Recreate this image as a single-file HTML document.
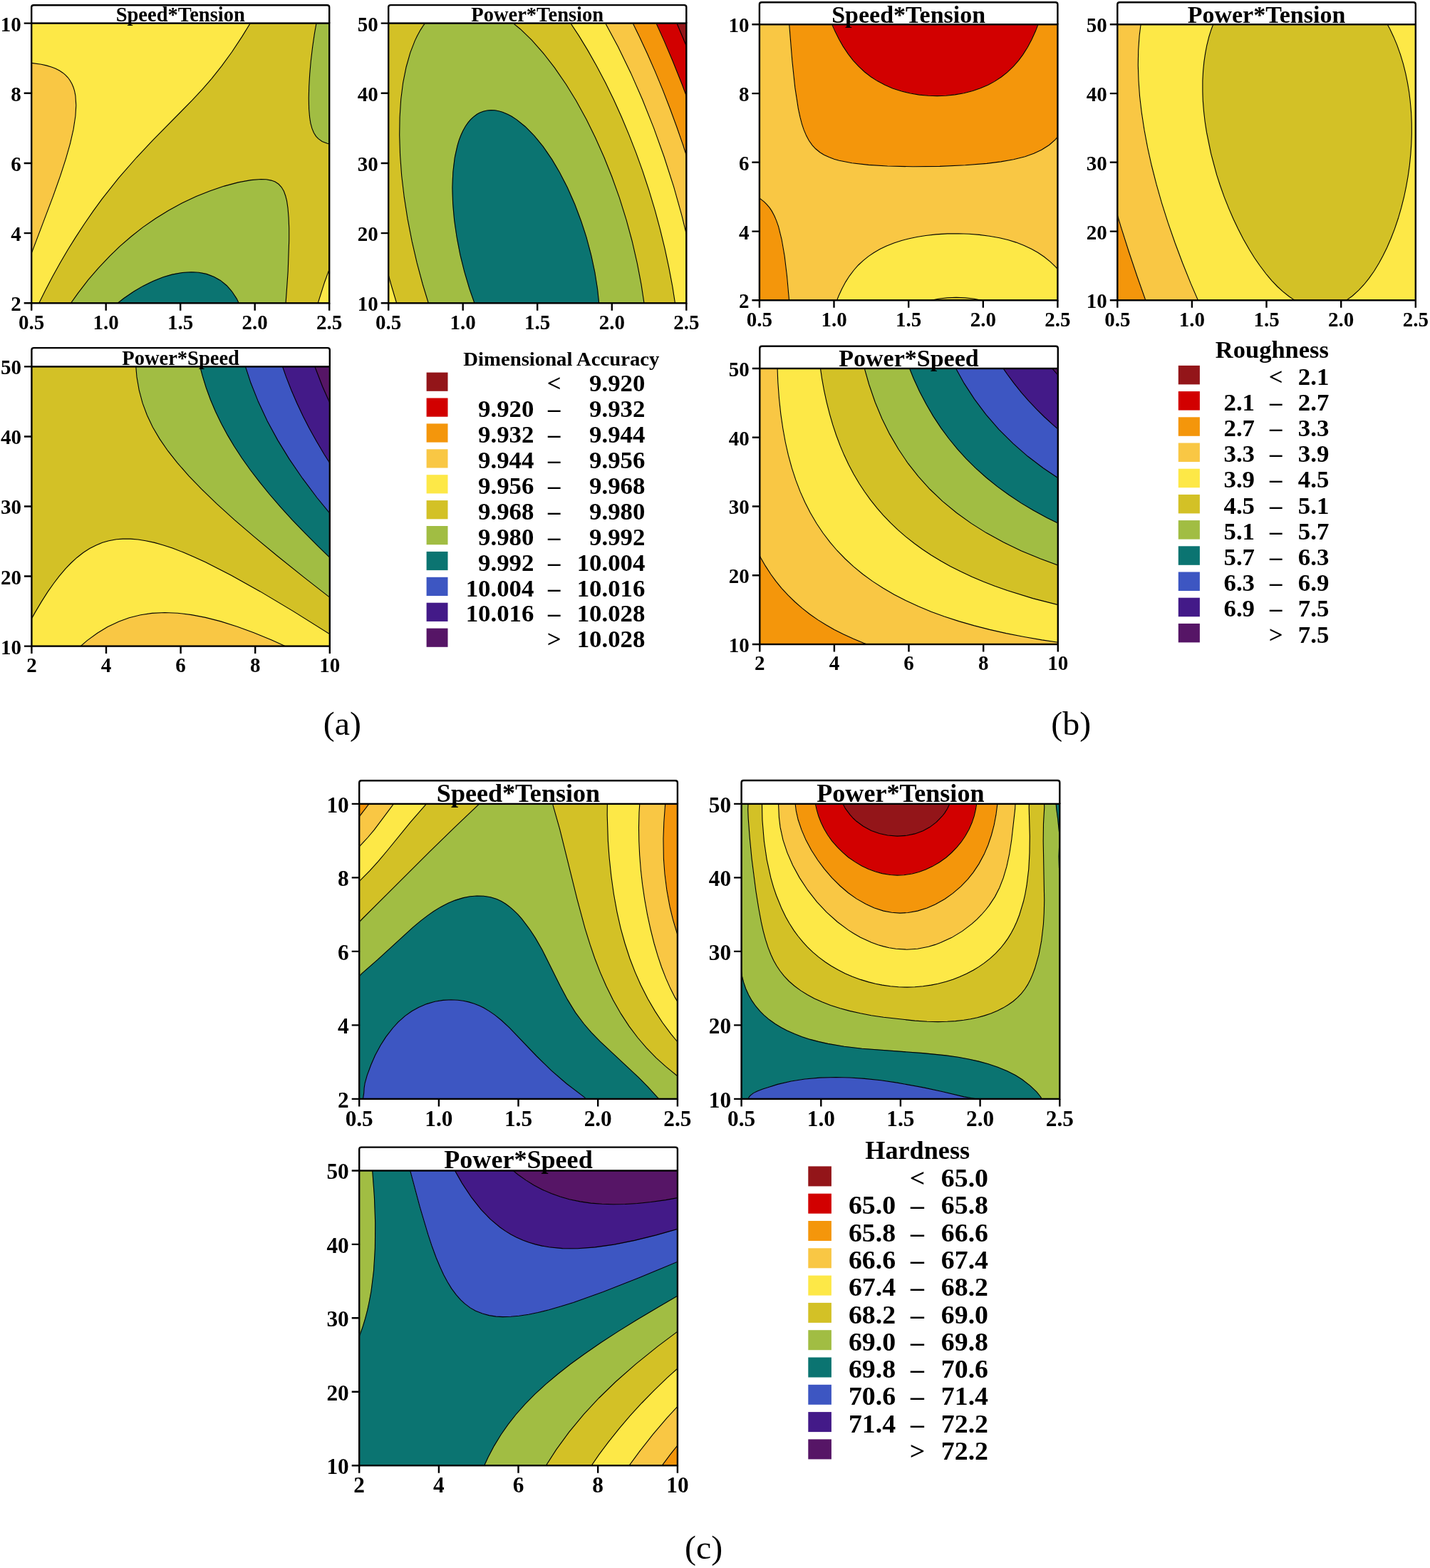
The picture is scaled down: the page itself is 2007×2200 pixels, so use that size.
<!DOCTYPE html><html><head><meta charset="utf-8"><title>Contour plots</title><style>html,body{margin:0;padding:0;background:#fff}svg{display:block}text{font-family:"Liberation Serif","Times New Roman",serif}</style></head><body>
<svg xmlns="http://www.w3.org/2000/svg" width="2007" height="2200" viewBox="0 0 2007 2200">
<rect width="2007" height="2200" fill="#fff"/>
<clipPath id="clip_aST"><rect x="44.2" y="32.6" width="418.0" height="392.7"/></clipPath>
<g clip-path="url(#clip_aST)">
<path fill="#f9c744" stroke="#f9c744" stroke-width="0.6" fill-rule="evenodd" d="M41.8 88l16.1 2.3l7.1 1.6l7.1 2.1l5.4 2.1l5.9 3l4.8 3.1l3.6 2.9l3.5 3.8l2.8 3.6l2.9 5l2.1 5.1l1.5 5l1.3 6.7l0.9 13.4l-0.9 15.1l-2.8 18.4l-4.6 20.1l-6.2 21.8l-7.6 23.5l-10 28.5l-34.7 91.5l0-278.8z"/>
<path fill="#fde847" stroke="#fde847" stroke-width="0.6" fill-rule="evenodd" d="M41.8 28.7l312 0l-14.1 22.8l-14.3 21.5l-14.2 19.6l-14.6 18.2l-13.1 15.1l-13.9 15.1l-54.8 55.5l-23.1 24.5l-25 28.7l-23.2 29.3l-12.5 17l-12.5 18l-12.5 19.1l-10.7 17.3l-10.7 18.2l-10.7 19.3l-10.7 20.3l-10.4 21.1l-12.8-0l0-62.7l35.3-93.2l10-28.5l7.5-23.5l6.5-23.4l4.4-20.1l2.5-18.5l0.5-15.1l-0.4-6.7l-1-6.7l-2.9-10l-2.3-5.1l-3-4.7l-3-3.6l-3.5-3.4l-4.4-3.3l-5.2-3l-10.7-4.4l-14.2-3.4l-16.1-2.2l0-59.1zM466.4 367.7l0 61.5l-21.4-0l10.1-31.9l5.4-15l5.4-13.4z"/>
<path fill="#d3c126" stroke="#d3c126" stroke-width="0.6" fill-rule="evenodd" d="M354 28.7l90.7 0l-3.3 18.4l-2.7 18.5l-2.4 20.1l-1.7 18.4l-0.9 16.8l-0.4 16.7l0.3 15.1l1 11.8l1.3 8.3l1.9 7.3l2.6 6.1l3.2 5.1l3.2 3.4l5.3 3.7l7.2 2.9l7.1 1.6l-0 164.9l-5.4 13.2l-5.4 14.7l-10.7 33.6l-44.1-0l3.5-48.6l1.4-43.6l-0-16.8l-0.5-15.1l-1.1-13.4l-1.6-10l-1.6-6.7l-2.5-6.7l-3.4-5.9l-4-4.2l-4.9-3.2l-5.3-2l-7.2-1.3l-7.1-0.3l-12.5 0.9l-14.3 2.4l-16 3.8l-17.9 5.4l-17.8 6.5l-16.1 6.7l-16 7.7l-16.1 8.6l-19.6 11.9l-19.6 13.6l-19.6 15.5l-17.9 15.9l-17.8 18l-16.1 18l-16 20l-16.5 22.9l-43.8-0l10.3-21.1l10.7-20.3l10.7-19.3l10.7-18.2l10.7-17.3l12.5-19.1l12.5-18l12.5-17l23.2-29.3l25-28.7l23.2-24.5l54.7-55.5l13.9-15.1l13.2-15.1l14.5-18.2l14.3-19.6l14.2-21.5l14.1-22.8z"/>
<path fill="#a1bd43" stroke="#a1bd43" stroke-width="0.6" fill-rule="evenodd" d="M445 28.7l21.4 0l0 174.2l-7.1-1.6l-7.2-2.9l-5.3-3.7l-3.2-3.4l-3.2-5.1l-2.5-6.1l-1.9-7.3l-1.4-8.3l-1-11.8l-0.3-15.1l0.4-16.7l1-16.8l1.6-18.4l2.4-20.1l2.8-18.5l3.2-18.4zM364.7 251.5l8.9 0.3l7.2 1.3l5.3 1.9l4.9 3.2l4 4.3l3.4 5.8l2.5 6.7l1.6 6.7l1.5 10.1l1.2 13.4l0.5 15.1l0 16.7l-1.4 43.6l-3.5 48.6l-63.7-0l-4.9-10.1l-6.7-10.3l-7.2-8.1l-8.9-7.3l-8.9-5l-10.7-4l-10.7-2.1l-10.7-0.6l-12.5 0.8l-14.3 2.6l-12.5 3.7l-14.3 5.6l-14.2 7l-12.5 7.3l-14.3 9.8l-13.6 10.7l-63.5-0l12.9-18.1l14.3-18.4l14.2-16.6l14.3-15.2l14.3-13.9l16-14.1l16.1-12.7l17.8-12.6l17.9-11.1l17.8-9.9l19.6-9.4l19.7-8.1l19.6-6.9l19.6-5.5l17.8-3.6l15.1-1.6z"/>
<path fill="#0b7471" stroke="#0b7471" stroke-width="0.6" fill-rule="evenodd" d="M259.4 382.1l12.5-0.3l12.5 1.4l10.7 2.9l5.3 2.3l5.4 2.8l8.9 6.3l5.2 4.9l3.7 4.2l7.2 10.1l6.3 12.5l-176.9-0l11.8-9.4l12.5-8.8l12.5-7.6l12.4-6.6l12.5-5.4l12.5-4.3l12.5-3.2l10.7-1.6z"/>
<path fill="none" stroke="#000" stroke-width="1.1" d="M40 366.6l34.6-91.5l10.1-28.5l7.6-23.5l6.2-21.8l4.6-20.1l2.8-18.4l0.9-15.1l-0.9-13.4l-1.3-6.7l-1.6-5.1l-2.1-5l-2.9-5l-2.7-3.7l-3.6-3.7l-3.5-2.9l-4.8-3.1l-5.9-3l-5.4-2.1l-7.1-2.1l-7.2-1.6l-17.8-2.5M466.4 367.7l-5.4 13.2l-5.4 14.8l-10.6 33.5M52.8 429.2l10.4-21l10.7-20.4l10.7-19.2l10.7-18.3l10.7-17.2l12.5-19.1l12.5-18.1l12.4-17l23.2-29.3l25-28.6l23.2-24.6l54.7-55.5l14-15l13.1-15.1l14.5-18.2l14.3-19.6l14.3-21.6l14-22.8M466.4 202.9l-7.1-1.6l-7.2-2.9l-5.3-3.7l-3.2-3.4l-3.2-5l-2.5-6.2l-2-7.3l-1.3-8.3l-1-11.8l-0.3-15l0.4-16.8l1-16.8l1.6-18.4l2.4-20.1l2.7-18.4l3.3-18.5M96.7 429.2l12.9-18.1l14.2-18.4l14.3-16.6l16.1-17l14.2-13.7l16.1-13.9l16-12.6l17.9-12.4l17.8-11l19.6-10.7l19.7-9.2l19.6-7.9l19.6-6.6l19.6-5.2l17.9-3.3l14.2-1.1l7.2 0.3l7.1 1.3l5.4 2l4.9 3.2l4 4.2l3.4 5.8l2.4 6.7l1.7 6.7l1.5 10.1l1.1 13.4l0.6 15.1l-0 16.7l-1.5 43.6l-3.4 48.6M160.2 429.2l13.6-10.7l14.3-9.8l12.5-7.3l14.2-7l14.3-5.6l12.5-3.7l14.3-2.6l12.5-0.8l10.7 0.6l10.7 2.1l10.7 4l8.9 5l8.9 7.3l7.1 8.1l6.8 10.3l4.9 10.1"/>
</g>
<path d="M44.2 32.6 V10.2 Q44.2 7.2 47.2 7.2 H459.2 Q462.2 7.2 462.2 10.2 V32.6" fill="#fff" stroke="#000" stroke-width="2.4"/>
<text x="253.2" y="29.9" font-size="28.5" font-weight="bold" text-anchor="middle">Speed*Tension</text>
<rect x="44.2" y="32.6" width="418.0" height="392.7" fill="none" stroke="#000" stroke-width="2.4"/>
<text x="44.2" y="461.7" font-size="29.0" font-weight="bold" text-anchor="middle">0.5</text>
<text x="148.7" y="461.7" font-size="29.0" font-weight="bold" text-anchor="middle">1.0</text>
<text x="253.2" y="461.7" font-size="29.0" font-weight="bold" text-anchor="middle">1.5</text>
<text x="357.7" y="461.7" font-size="29.0" font-weight="bold" text-anchor="middle">2.0</text>
<text x="462.2" y="461.7" font-size="29.0" font-weight="bold" text-anchor="middle">2.5</text>
<text x="29.7" y="436.2" font-size="29.0" font-weight="bold" text-anchor="end">2</text>
<text x="29.7" y="338.0" font-size="29.0" font-weight="bold" text-anchor="end">4</text>
<text x="29.7" y="239.9" font-size="29.0" font-weight="bold" text-anchor="end">6</text>
<text x="29.7" y="141.7" font-size="29.0" font-weight="bold" text-anchor="end">8</text>
<text x="29.7" y="43.5" font-size="29.0" font-weight="bold" text-anchor="end">10</text>
<path d="M44.2 425.3v10.5M148.7 425.3v10.5M253.2 425.3v10.5M357.7 425.3v10.5M462.2 425.3v10.5M44.2 425.3h-10.5M44.2 327.1h-10.5M44.2 229.0h-10.5M44.2 130.8h-10.5M44.2 32.6h-10.5" stroke="#000" stroke-width="2.4" fill="none"/>
<clipPath id="clip_aPT"><rect x="545.2" y="32.6" width="418.1" height="392.7"/></clipPath>
<g clip-path="url(#clip_aPT)">
<path fill="#931519" stroke="#931519" stroke-width="0.6" fill-rule="evenodd" d="M949.6 28.7l17.8 0l0 45.9l-19.1-45.9z"/>
<path fill="#d20000" stroke="#d20000" stroke-width="0.6" fill-rule="evenodd" d="M919.3 28.7l29 0l13.8 32.7l5.4 13.2l-0 71.3l-10.7-28.6l-12.5-31.3l-12.5-29.4l-12.6-27.9z"/>
<path fill="#f4960b" stroke="#f4960b" stroke-width="0.6" fill-rule="evenodd" d="M887.2 28.7l32 0l16.2 36.2l16 38.8l16.1 42.2l-0 85.1l-8.9-27.6l-8.9-25.9l-9.2-24.8l-10.4-26.8l-10.8-26l-10.7-24.4l-10.7-23.1l-11.6-23.7z"/>
<path fill="#f9c744" stroke="#f9c744" stroke-width="0.6" fill-rule="evenodd" d="M847.9 28.7l38.4 0l15.1 31.3l13.2 29l13.6 32.3l12.5 31.9l14.3 39.7l12.5 38.1l-0 114.5l-10.7-43.6l-11.4-40.2l-13.4-41.9l-14.5-40.4l-16-40.1l-16.3-36.9l-17.9-36.8l-19.8-36.9z"/>
<path fill="#fde847" stroke="#fde847" stroke-width="0.6" fill-rule="evenodd" d="M799.8 28.7l47.8 0l14.7 26.9l14.2 28.4l12.6 26.8l13.2 30.2l9.9 24.5l9.2 24.1l8.7 24.3l8.9 26.8l8 26l7.6 26.8l7 26.8l5.9 25.2l0 83.8l-19.4-0l-4.2-26.9l-5.1-26.8l-5.7-26.8l-6.6-27l-7.2-26.6l-8.6-28.5l-8.8-26.8l-9.3-25.8l-9.5-24.5l-10.6-25.1l-11.4-25.2l-11.5-23.5l-12.3-23.4l-12.5-22l-12.5-20.5l-14-21.2zM541.1 370.6l8.1 30.2l8.5 28.5l-16.7-0l-0-59.2z"/>
<path fill="#d3c126" stroke="#d3c126" stroke-width="0.6" fill-rule="evenodd" d="M542.8 28.7l56.9 0l-5.2 6.7l-4.4 6.7l-4.5 8.1l-3.3 7l-6.5 16.8l-5.7 20.1l-4.4 21.7l-2.9 23.5l-1.7 25.2l-0.4 25.1l0.9 28.5l2.1 28.5l3.6 30.1l4.7 30.2l6.2 31.9l7 30.1l8.1 30.2l9.2 30.2l-44.7-0l-9-30.2l-7.8-29l0-341.4zM715.9 28.7l82.4 0l14 21.2l14.5 24.1l10.4 18.4l10.7 20.3l10.7 21.6l9.4 20.1l10.2 23.5l8.8 21.7l8.9 23.5l7.4 20.9l7.1 21.7l7.1 23.5l6.8 24.4l5.7 22.4l5.4 23.3l5.1 24.7l3.9 21.8l3.7 23.5l-43.5-0l-4.5-30.2l-5.8-29.8l-7.1-30.8l-8.1-29.9l-9.7-31l-10.5-29.3l-11-27.5l-12.4-28.1l-12.5-25.2l-14.3-26l-14.3-23.3l-16-23.3l-16.1-20.6l-16.1-18.1l-16-15.5l-14.8-12z"/>
<path fill="#a1bd43" stroke="#a1bd43" stroke-width="0.6" fill-rule="evenodd" d="M599.9 28.7l115.5 0l14.8 12l14.2 13.7l14.3 15.6l14.3 17.7l12.5 17.2l10.7 16.1l10.7 17.5l10.7 18.9l10.7 20.6l10.3 21.6l9.3 21.2l8.9 22.1l8.8 23.8l7.3 21.8l7.1 23.5l6.4 23.4l5.6 23.5l5 23.4l4.2 23.5l3.4 23.5l-63.5-0l-2.5-23.5l-3.8-23.5l-4.9-23.4l-7-25.9l-7.3-22.7l-8.8-23.5l-10.6-23.9l-10.7-20.9l-10.7-18.1l-12.5-18.1l-12.5-15.4l-12.5-12.6l-12.5-10.1l-7.1-4.6l-5.4-2.8l-7.1-2.9l-5.4-1.6l-5.3-0.9l-5.4-0.3l-5.3 0.4l-5.4 1.2l-5.3 2.2l-3.6 1.9l-5.4 4l-3.5 3.4l-3.6 4.3l-3.6 5.1l-3.5 6.3l-2.9 6.2l-2.6 6.7l-2.5 8.4l-3.7 16.7l-2.4 20.1l-0.9 21.8l0.6 21.8l2.1 23.5l3.3 23.4l4.9 25.2l5.8 23.7l7.2 24.1l8.5 24.3l-64.8-0l-9.2-30.2l-8.1-30.2l-7-30.1l-6.2-31.9l-4.7-30.2l-3.6-30.1l-2.1-28.5l-0.9-28.5l0.4-25.1l1.7-25.2l2.9-23.5l4.4-21.7l5.7-20.1l6.5-16.8l3.3-7l4.5-8.1l4.4-6.7l5.2-6.7z"/>
<path fill="#0b7471" stroke="#0b7471" stroke-width="0.6" fill-rule="evenodd" d="M680.2 155.7l5.4-0.9l5.3-0.2l5.4 0.5l7.1 1.7l5.3 1.9l7.2 3.4l5.3 3.2l7.2 5l7.1 5.8l7.2 6.7l12.4 13.8l12.5 16.5l12.5 19.5l12.5 22.9l10.7 22.9l9.3 23.4l8.6 25.2l7.1 25.5l5.9 26.4l4.2 25.2l2.7 25.1l-173.8 0l-7.7-21.8l-6.6-21.8l-6-23.4l-4.9-23.5l-3.7-23.5l-2.3-21.7l-1.1-21.8l0.2-20.1l1.4-18.5l2.6-17l3.6-14.8l5.3-14.2l3.6-7.1l3.4-5.5l3.7-4.8l3.4-3.6l3.7-3.3l3.6-2.5l5.3-2.8l4.2-1.5z"/>
<path fill="none" stroke="#000" stroke-width="1.1" d="M948.3 28.7l19.2 45.9M919.2 28.7l12.6 27.9l12.5 29.4l12.5 31.3l10.7 28.6M886.3 28.7l11.6 23.7l10.7 23.1l10.7 24.4l10.8 26l10.4 26.8l9.1 24.8l9 25.9l8.9 27.6M847.6 28.7l19.8 36.9l17.9 36.8l16.2 36.9l16 40.1l14.5 40.4l13.5 41.9l11.3 40.2l10.7 43.6M798.3 28.7l14 21.2l12.5 20.5l12.5 22l12.3 23.4l11.5 23.5l11.4 25.2l10.5 25.1l9.6 24.5l9.3 25.8l8.8 26.8l8.6 28.5l7.2 26.6l6.6 27l5.7 26.8l5.1 26.8l4.2 26.9M557.8 429.2l-9-30.2l-7.8-29M715.4 28.7l14.8 12l16 15.5l16.1 18.1l16 20.6l16.1 23.3l14.3 23.3l14.3 26l12.4 25.2l12.5 28.1l11 27.5l10.5 29.3l9.7 31l8.1 29.9l7.1 30.8l5.7 29.8l4.6 30.2M602.5 429.2l-9.2-30.2l-8.1-30.1l-7-30.2l-6.2-31.8l-4.7-30.2l-3.6-30.2l-2.1-28.5l-0.9-28.5l0.4-25.1l1.6-25.1l3-23.5l4.4-21.8l5.7-20.1l6.5-16.8l3.3-6.9l4.5-8.1l4.4-6.8l5.2-6.7M667.3 429.2l-8.5-24.3l-7.1-24.1l-5.9-23.7l-4.8-25.1l-3.4-23.5l-2-23.4l-0.7-21.8l0.9-21.8l2.4-20.1l3.7-16.8l2.5-8.4l2.6-6.7l2.9-6.2l3.5-6.3l3.6-5.1l3.6-4.2l3.5-3.4l5.4-4l3.6-2l5.3-2.1l5.4-1.2l5.3-0.4l5.4 0.2l5.3 1l5.4 1.5l7.1 3l5.4 2.8l7.1 4.5l12.5 10.1l12.5 12.7l12.5 15.3l12.5 18.2l10.7 18.1l10.7 20.8l10.6 23.9l8.8 23.5l7.4 22.7l6.9 25.9l5 23.5l3.7 23.4l2.5 23.5"/>
</g>
<path d="M545.2 32.6 V10.1 Q545.2 7.1 548.2 7.1 H960.3 Q963.3 7.1 963.3 10.1 V32.6" fill="#fff" stroke="#000" stroke-width="2.4"/>
<text x="754.2" y="29.9" font-size="28.5" font-weight="bold" text-anchor="middle">Power*Tension</text>
<rect x="545.2" y="32.6" width="418.1" height="392.7" fill="none" stroke="#000" stroke-width="2.4"/>
<text x="545.2" y="461.7" font-size="29.0" font-weight="bold" text-anchor="middle">0.5</text>
<text x="649.7" y="461.7" font-size="29.0" font-weight="bold" text-anchor="middle">1.0</text>
<text x="754.2" y="461.7" font-size="29.0" font-weight="bold" text-anchor="middle">1.5</text>
<text x="858.8" y="461.7" font-size="29.0" font-weight="bold" text-anchor="middle">2.0</text>
<text x="963.3" y="461.7" font-size="29.0" font-weight="bold" text-anchor="middle">2.5</text>
<text x="530.7" y="436.2" font-size="29.0" font-weight="bold" text-anchor="end">10</text>
<text x="530.7" y="338.0" font-size="29.0" font-weight="bold" text-anchor="end">20</text>
<text x="530.7" y="239.9" font-size="29.0" font-weight="bold" text-anchor="end">30</text>
<text x="530.7" y="141.7" font-size="29.0" font-weight="bold" text-anchor="end">40</text>
<text x="530.7" y="43.5" font-size="29.0" font-weight="bold" text-anchor="end">50</text>
<path d="M545.2 425.3v10.5M649.7 425.3v10.5M754.2 425.3v10.5M858.8 425.3v10.5M963.3 425.3v10.5M545.2 425.3h-10.5M545.2 327.1h-10.5M545.2 229.0h-10.5M545.2 130.8h-10.5M545.2 32.6h-10.5" stroke="#000" stroke-width="2.4" fill="none"/>
<clipPath id="clip_aPS"><rect x="44.4" y="514.4" width="418.4" height="392.2"/></clipPath>
<g clip-path="url(#clip_aPS)">
<path fill="#f9c744" stroke="#f9c744" stroke-width="0.6" fill-rule="evenodd" d="M215.2 860.3l8.9-0.6l10.7-0.1l19.7 1.2l21.4 3.1l23.2 5.1l25 7.3l26.8 9.5l28.6 11.5l29.4 13.3l-300.3-0l12-10.4l12.5-9.5l12.5-8.1l14.2-7.5l12.5-5.2l14.3-4.6l14.3-3.1l13.7-1.8z"/>
<path fill="#fde847" stroke="#fde847" stroke-width="0.6" fill-rule="evenodd" d="M167 756.4l14.3-0.4l14.3 1.2l16 2.9l16.1 4.3l17.9 6l19.6 7.8l21.4 9.7l23.3 11.5l33.9 18.3l35.7 20.6l41.1 24.8l46.4 29.2l-0 18.2l-58.1 0l-27.6-12.5l-25-10.2l-23.2-8.6l-23.2-7.3l-21.5-5.5l-19.6-3.8l-19.7-2.4l-17.8-0.7l-17.9 0.9l-16 2.3l-16.1 4.1l-14.3 5.1l-16.1 7.6l-14.3 8.7l-14.2 10.4l-13.8 11.9l-68.4 0l0-35.1l12.5-22.2l10.7-17.3l10.7-15.8l10.8-13.9l9.7-11.2l9.9-9.7l8.9-7.5l10.7-7.3l9-4.8l10.7-4.4l10.7-3l11.4-1.8z"/>
<path fill="#d3c126" stroke="#d3c126" stroke-width="0.6" fill-rule="evenodd" d="M42 510.5l148.4 0l1.4 16.7l2.3 15.1l3.5 15.1l4.8 15l6.1 15.1l6.7 13.4l7.8 13.4l10.2 15l15.6 20.1l17.8 20.1l21.3 21.8l26.7 25.1l30.4 26.8l34 28.4l39.4 31.8l48.6 38.1l-0 50.8l-55.4-34.6l-46.4-27.8l-41.1-22.9l-35.7-18.2l-16.1-7.4l-16-6.8l-14.3-5.4l-12.5-4.2l-12.5-3.5l-12.5-2.8l-10.7-1.7l-10.7-0.9l-10.7-0l-9 0.7l-10.7 2l-8.9 2.5l-8.9 3.6l-9 4.6l-8.9 5.8l-8.9 6.9l-8.6 7.8l-7.5 7.9l-8.9 10.5l-7.7 10.1l-8.4 12l-8.9 13.9l-9 15l-8.9 16l0-364.9z"/>
<path fill="#a1bd43" stroke="#a1bd43" stroke-width="0.6" fill-rule="evenodd" d="M192 510.5l87.7 0l4.4 16.7l5.2 16.8l6.1 16.7l7.1 16.8l8.1 16.7l9 16.7l9 15.1l10.9 16.7l11.9 16.8l12.7 16.7l13.7 16.7l15.9 18.5l16.8 18.4l17.7 18.4l18.4 18.4l20.4 19.7l-0 55.2l-40.2-31.4l-37.6-30.1l-32.4-26.8l-27.2-23.4l-25.9-23.5l-20.9-20l-17.7-18.5l-16.2-18.4l-13.2-16.7l-11.6-16.7l-9.8-16.8l-8-16.7l-6.2-16.8l-4.9-18.4l-3.2-18.4l-1.6-18.4z"/>
<path fill="#0b7471" stroke="#0b7471" stroke-width="0.6" fill-rule="evenodd" d="M281.3 510.5l61.9 0l8.8 26.8l10.7 26.8l12.6 26.7l14.5 26.8l16.4 26.8l18.4 26.8l20.1 26.8l22.3 27.3l0 61l-20.4-19.7l-18.4-18.4l-17.7-18.4l-16.8-18.4l-15.9-18.5l-13.6-16.7l-12.8-16.7l-11.9-16.8l-10.9-16.7l-9-15.1l-9-16.7l-8.1-16.7l-7.1-16.8l-6.1-16.7l-5.2-16.8l-4.4-16.7z"/>
<path fill="#3d56c2" stroke="#3d56c2" stroke-width="0.6" fill-rule="evenodd" d="M343.8 510.5l51.4 0l6.5 18.4l7.2 18.4l7.9 18.4l8.7 18.4l8.6 16.8l10.2 18.4l10.9 18.4l11.8 18.5l0 69.1l-22.3-27.3l-20.1-26.8l-18.4-26.8l-16.4-26.8l-14.5-26.8l-12.6-26.7l-10.7-26.8l-8.8-26.8z"/>
<path fill="#431a88" stroke="#431a88" stroke-width="0.6" fill-rule="evenodd" d="M395.6 510.5l44.8 0l12.2 31.8l14.4 32.2l0 81.7l-11.7-18.5l-11-18.4l-10.2-18.4l-8.6-16.8l-8.7-18.4l-7.9-18.4l-7.2-18.4l-6.5-18.4z"/>
<path fill="#561566" stroke="#561566" stroke-width="0.6" fill-rule="evenodd" d="M442 510.5l25 0l-0 64l-14.4-32.2l-12.2-31.8z"/>
<path fill="none" stroke="#000" stroke-width="1.1" d="M408.9 910.5l-27.6-12.5l-25-10.2l-23.2-8.6l-23.2-7.3l-21.5-5.5l-19.6-3.8l-19.6-2.4l-17.9-0.7l-17.9 0.9l-16 2.3l-16.1 4.1l-14.3 5.1l-16 7.6l-14.3 8.7l-14.3 10.4l-13.7 11.9M467 892.3l-55.4-34.7l-46.4-27.7l-41.1-23l-35.7-18.1l-16-7.4l-16.1-6.8l-14.3-5.5l-12.5-4.1l-12.5-3.6l-12.5-2.7l-10.7-1.7l-10.7-0.9l-10.7-0l-9 0.7l-10.7 1.9l-8.9 2.6l-8.9 3.6l-9 4.6l-8.9 5.7l-8.9 7l-8.5 7.8l-7.6 7.9l-8.9 10.5l-7.7 10.1l-8.4 11.9l-8.9 14l-8.9 15l-9 16M467 841.5l-40.2-31.4l-37.6-30.1l-32.4-26.8l-27.2-23.4l-25.9-23.5l-20.9-20.1l-17.7-18.4l-16.2-18.4l-13.2-16.7l-11.6-16.8l-9.8-16.7l-7.9-16.7l-6.3-16.8l-4.9-18.4l-3.2-18.4l-1.6-18.4M467 786.3l-20.4-19.7l-18.4-18.4l-17.7-18.4l-16.8-18.4l-15.9-18.4l-13.6-16.8l-12.8-16.7l-11.9-16.8l-10.9-16.7l-9-15.1l-9-16.7l-8.1-16.7l-7.1-16.8l-6.1-16.7l-5.2-16.8l-4.4-16.7M467 725.3l-22.3-27.3l-20.1-26.8l-18.4-26.8l-16.4-26.8l-14.5-26.7l-12.6-26.8l-10.7-26.8l-8.8-26.8M467 656.2l-11.8-18.5l-10.9-18.4l-10.2-18.4l-8.6-16.7l-8.7-18.5l-8-18.4l-7.2-18.4l-6.4-18.4M467 574.5l-14.4-32.2l-12.2-31.8"/>
</g>
<path d="M44.4 514.4 V491.1 Q44.4 488.1 47.4 488.1 H459.8 Q462.8 488.1 462.8 491.1 V514.4" fill="#fff" stroke="#000" stroke-width="2.4"/>
<text x="253.6" y="511.7" font-size="28.5" font-weight="bold" text-anchor="middle">Power*Speed</text>
<rect x="44.4" y="514.4" width="418.4" height="392.2" fill="none" stroke="#000" stroke-width="2.4"/>
<text x="44.4" y="943.0" font-size="29.0" font-weight="bold" text-anchor="middle">2</text>
<text x="149.0" y="943.0" font-size="29.0" font-weight="bold" text-anchor="middle">4</text>
<text x="253.6" y="943.0" font-size="29.0" font-weight="bold" text-anchor="middle">6</text>
<text x="358.2" y="943.0" font-size="29.0" font-weight="bold" text-anchor="middle">8</text>
<text x="462.8" y="943.0" font-size="29.0" font-weight="bold" text-anchor="middle">10</text>
<text x="29.9" y="917.5" font-size="29.0" font-weight="bold" text-anchor="end">10</text>
<text x="29.9" y="819.5" font-size="29.0" font-weight="bold" text-anchor="end">20</text>
<text x="29.9" y="721.4" font-size="29.0" font-weight="bold" text-anchor="end">30</text>
<text x="29.9" y="623.4" font-size="29.0" font-weight="bold" text-anchor="end">40</text>
<text x="29.9" y="525.3" font-size="29.0" font-weight="bold" text-anchor="end">50</text>
<path d="M44.4 906.6v10.5M149.0 906.6v10.5M253.6 906.6v10.5M358.2 906.6v10.5M462.8 906.6v10.5M44.4 906.6h-10.5M44.4 808.5h-10.5M44.4 710.5h-10.5M44.4 612.5h-10.5M44.4 514.4h-10.5" stroke="#000" stroke-width="2.4" fill="none"/>
<clipPath id="clip_bST"><rect x="1065.9" y="34.3" width="418.5" height="387.0"/></clipPath>
<g clip-path="url(#clip_bST)">
<path fill="#931519" stroke="#931519" stroke-width="0.6" fill-rule="evenodd" d="M1283.2 30.4l59.7 0l-7.9 2l-7.1 1.3l-14.3 1l-9-0.3l-7.1-0.8l-7.2-1.3l-7.2-1.9z"/>
<path fill="#d20000" stroke="#d20000" stroke-width="0.6" fill-rule="evenodd" d="M1167.1 30.4l115.9 0l7.3 1.9l7.2 1.3l7.1 0.8l9 0.3l14.2-1l7.2-1.3l7.9-2l115.6 0l-5.1 13.2l-5.2 11.6l-6 11.3l-6.4 10.1l-6.1 8.3l-7.3 8.3l-8.6 8.2l-8.3 6.6l-9.8 6.4l-8.9 4.8l-10.7 4.6l-10.7 3.7l-12.5 3.2l-12.6 2.2l-12.5 1.3l-12.5 0.4l-12.5-0.3l-12.5-1.2l-12.5-2.1l-12.5-3l-12.5-4.1l-10.7-4.6l-10.7-5.7l-8.7-5.6l-9.2-7l-8.4-7.8l-7.6-8.4l-7.2-9.2l-7-10.5l-5.5-9.6l-6-11.9l-5.7-13.2z"/>
<path fill="#f4960b" stroke="#f4960b" stroke-width="0.6" fill-rule="evenodd" d="M1108.2 30.4l57.9 0l5.8 13.2l6 11.9l5.5 9.6l7 10.5l7.1 9.2l7.7 8.4l8.4 7.8l9.1 7l8.7 5.6l10.8 5.7l10.7 4.6l12.5 4.1l12.5 3l12.5 2.1l12.5 1.2l12.5 0.3l12.5-0.4l10.7-1.1l10.7-1.7l10.7-2.4l10.8-3.2l8.9-3.4l8.9-4.1l8.9-5l10.8-7.3l8.9-7.6l8.3-8.5l7.8-9.7l7.1-10.7l7-12.7l5.5-11.8l5.7-14.6l30-0l0 156.3l-4.2 5.6l-4.6 4.9l-5.5 4.9l-5.3 3.9l-7.2 4.3l-7.1 3.5l-8.9 3.5l-9 2.9l-19.6 4.6l-25 3.8l-30.4 2.8l-35.7 1.7l-39.3 0.7l-32.1-0.5l-26.8-1.2l-23.3-2.1l-17.8-2.7l-14.9-3.7l-11.9-4.5l-5.4-2.9l-5.3-3.6l-3.6-2.9l-4.2-4.2l-2.9-3.6l-3.6-5.4l-5.4-10.8l-5-14.9l-3.9-16.8l-3.6-21.4l-3.2-26.2l-3.1-33.1l-3.4-42.9zM1063.3 276.5l5.1 3.3l4.1 3.3l4.9 5l3.9 4.9l3.1 5l3.3 6.6l2.7 6.6l2.7 8.2l4.4 18.3l3.8 23l3.3 28.1l3.3 36.3l-46.2 0l0-149.5z"/>
<path fill="#f9c744" stroke="#f9c744" stroke-width="0.6" fill-rule="evenodd" d="M1063.5 30.4l43.9 0l4.3 54.5l4.1 38l2.3 16.5l2.6 14.6l2.6 11.8l2.7 10l3.6 9.9l3.6 7.7l3.5 5.9l4.8 6.2l5 4.9l6.3 4.7l6.4 3.6l7.8 3.3l14.4 4.2l19.6 3.4l23.2 2.3l26.8 1.3l35.8 0.6l35.7-0.5l33.9-1.6l30.4-2.5l19.6-2.6l17.9-3.3l16.1-4.2l12.5-4.5l11.6-5.8l9.7-6.6l7.2-6.7l7.2-8.8l-0 195.8l-7.2-8.1l-7.3-7.1l-8.7-7.1l-9-6l-8.9-5.1l-10.7-5l-10.7-4l-10.7-3.3l-12.5-3.1l-14.3-2.6l-14.3-1.8l-14.3-1.1l-14.3-0.5l-16.1 0.2l-16.1 1l-14.2 1.5l-12.5 2l-10.8 2.3l-10.7 2.8l-10.7 3.4l-10.7 4.3l-8.9 4.3l-9 5.1l-7.1 4.9l-7.2 5.7l-7.1 6.8l-6.2 6.9l-6.3 8.3l-4.3 6.6l-4.7 8.2l-5.3 11.2l-4.7 11.9l-0.6 0l-64.6 0l-3.5-37.9l-3.4-28.1l-3.9-23.1l-4.6-18.2l-2.8-8.3l-2.8-6.6l-3.5-6.6l-3.4-4.9l-4-4.9l-3.6-3.4l-5.3-4.2l-5.4-3.3l0-241.5l0.5-3.7z"/>
<path fill="#fde847" stroke="#fde847" stroke-width="0.6" fill-rule="evenodd" d="M1062 32.1l-0.3 2l0-3.7l0.5 0zM1336.8 327.7l17.9 0.2l17.8 1.2l17.9 2.3l16.1 3.1l14.2 3.8l14.3 5.1l12.5 5.7l10.8 6.2l8.9 6.3l7.1 5.9l7.2 6.9l7.1 8.1l0 42.6l-96.8 0l-12.1-3.4l-12.5-2.5l-12.5-1.5l-12.5-0.5l-12.5 0.5l-12.5 1.5l-12.5 2.5l-11.5 3.4l-120.1 0l4.7-11.9l5.4-11.2l5.7-9.9l6.9-9.9l7-8.3l8.5-8.2l9.4-7.5l8.9-5.7l10.8-5.7l10.7-4.5l12.5-4.3l12.5-3.3l14.3-2.9l14.3-2l16-1.5l16.1-0.6z"/>
<path fill="#d3c126" stroke="#d3c126" stroke-width="0.6" fill-rule="evenodd" d="M1322.5 418.4l8.9-0.9l9-0.3l17.8 0.8l9 1.2l8.9 1.6l15.7 4.3l-98.6 0l13.2-3.8l15-2.8z"/>
<path fill="none" stroke="#000" stroke-width="1.1" d="M1283 30.4l7.3 1.9l7.1 1.3l7.2 0.8l8.9 0.3l14.3-1l7.1-1.3l8-2M1166 30.4l5.8 13.2l6 11.9l5.5 9.6l7 10.5l7.1 9.2l7.7 8.4l8.4 7.8l9.1 7l8.7 5.6l10.8 5.7l10.7 4.6l12.5 4.1l12.5 3l12.5 2.1l12.5 1.2l12.5 0.3l12.5-0.4l12.5-1.3l12.5-2.2l12.5-3.2l10.7-3.7l10.7-4.6l9-4.8l9.7-6.4l8.4-6.6l8.6-8.2l7.2-8.3l6.1-8.3l6.4-10.1l6-11.3l5.3-11.6l5.1-13.2M1107.4 30.4l4.4 54.5l4 38l4.6 29.7l2.5 11.6l2.6 9.9l2.8 8.3l3.5 8.2l3.6 6.6l4.7 6.6l4.6 5l6.1 4.9l5.6 3.5l7.2 3.4l7.1 2.7l7.1 2l17.9 3.5l23.2 2.6l26.8 1.6l35.7 0.8l37.5-0.4l35.8-1.6l30.3-2.4l19.7-2.5l17.8-3.2l16.1-4l12.5-4.4l10.7-5l10.7-6.8l8.9-7.9l7.2-8.9M1107.9 425.2l-3.4-38l-3.4-28.1l-4-23.1l-4.5-18.2l-2.9-8.2l-2.8-6.6l-3.5-6.6l-3.3-5l-4.1-4.8l-3.5-3.5l-5.4-4.2l-5.3-3.2M1062.2 30.4l-0.5 3.7M1173.1 425.2l3.9-9.9l4.5-9.9l5.3-9.8l5.3-8.3l6.3-8.3l6.2-7l7.2-6.7l7.1-5.7l7.2-4.9l8.9-5.1l8.9-4.3l10.7-4.3l10.8-3.5l10.7-2.8l10.7-2.2l12.5-2l14.3-1.6l16.1-1l16-0.2l14.3 0.5l14.3 1.2l14.3 1.8l14.3 2.6l12.5 3l10.7 3.3l10.7 4.1l10.7 5l9 5l8.9 6.1l8.8 7.1l7.3 7l7.1 8.1M1293.2 425.2l11.5-3.4l12.5-2.6l12.5-1.5l12.5-0.5l12.5 0.5l12.5 1.5l12.5 2.5l12.1 3.5"/>
</g>
<path d="M1065.9 34.3 V6.3 Q1065.9 3.3 1068.9 3.3 H1481.4 Q1484.4 3.3 1484.4 6.3 V34.3" fill="#fff" stroke="#000" stroke-width="2.4"/>
<text x="1275.2" y="31.7" font-size="34.0" font-weight="bold" text-anchor="middle">Speed*Tension</text>
<rect x="1065.9" y="34.3" width="418.5" height="387.0" fill="none" stroke="#000" stroke-width="2.4"/>
<text x="1065.9" y="457.7" font-size="29.0" font-weight="bold" text-anchor="middle">0.5</text>
<text x="1170.5" y="457.7" font-size="29.0" font-weight="bold" text-anchor="middle">1.0</text>
<text x="1275.2" y="457.7" font-size="29.0" font-weight="bold" text-anchor="middle">1.5</text>
<text x="1379.8" y="457.7" font-size="29.0" font-weight="bold" text-anchor="middle">2.0</text>
<text x="1484.4" y="457.7" font-size="29.0" font-weight="bold" text-anchor="middle">2.5</text>
<text x="1051.4" y="432.2" font-size="29.0" font-weight="bold" text-anchor="end">2</text>
<text x="1051.4" y="335.5" font-size="29.0" font-weight="bold" text-anchor="end">4</text>
<text x="1051.4" y="238.7" font-size="29.0" font-weight="bold" text-anchor="end">6</text>
<text x="1051.4" y="142.0" font-size="29.0" font-weight="bold" text-anchor="end">8</text>
<text x="1051.4" y="45.2" font-size="29.0" font-weight="bold" text-anchor="end">10</text>
<path d="M1065.9 421.3v10.5M1170.5 421.3v10.5M1275.2 421.3v10.5M1379.8 421.3v10.5M1484.4 421.3v10.5M1065.9 421.3h-10.5M1065.9 324.6h-10.5M1065.9 227.8h-10.5M1065.9 131.1h-10.5M1065.9 34.3h-10.5" stroke="#000" stroke-width="2.4" fill="none"/>
<clipPath id="clip_bPT"><rect x="1568.3" y="34.3" width="418.5" height="387.0"/></clipPath>
<g clip-path="url(#clip_bPT)">
<path fill="#f4960b" stroke="#f4960b" stroke-width="0.6" fill-rule="evenodd" d="M1564.2 288.1l9.3 31.4l10.5 33l12.2 36.2l13 36.5l-45.1-0l-0-137.5z"/>
<path fill="#f9c744" stroke="#f9c744" stroke-width="0.6" fill-rule="evenodd" d="M1565.9 30.4l35.7 0l-2.5 19.8l-1.4 19.8l-0.4 21.5l0.6 21.5l1.6 21.5l2.6 23.1l3.8 24.8l4.7 24.4l5.6 25.1l6.9 26.9l7.4 26l8.9 28l9.7 28.1l10.5 28.1l11.7 28.9l11.8 27.2l-73.9 0l-21.3-61.1l-17.4-54.5l-6.4-21.8l0-257.3z"/>
<path fill="#fde847" stroke="#fde847" stroke-width="0.6" fill-rule="evenodd" d="M1601.6 30.4l102.4 0l-4.2 11.2l-3.2 10.3l-2.9 11.5l-2.2 11.6l-1.7 11.6l-1.3 13.2l-0.6 13.2l-0.1 14.8l0.5 13.3l1.1 14.8l1.7 14.9l2.3 14.9l6.1 29.7l8.1 29.7l4.7 14.9l5.9 16.5l6.6 16.5l6.5 14.9l6.3 13.2l7.7 14.9l8.1 14.2l7.2 11.4l7.2 10.7l8.8 11.6l8.4 9.9l7.7 8.1l7.3 6.7l8.8 7.1l7.1 4.8l8.4 4.6l-141.3 0l-11.7-27.2l-11.7-28.9l-10.5-28.1l-9.7-28.1l-8.9-28l-7.5-26l-6.9-26.9l-5.6-25.1l-4.6-24.4l-3.8-24.8l-2.6-23.1l-1.6-21.5l-0.6-21.5l0.4-21.5l1.4-19.8l2.5-19.8zM1946.3 30.4l44.7 0l-0 394.7l-108.2 0l8.1-4.7l7.2-5.2l8.9-8.1l7.2-7.6l7.1-8.9l7.1-10.1l7.1-11.5l5.4-9.9l5.6-11.6l5.8-13.2l5.1-13.2l5-14.8l4.3-14.9l3.8-14.9l3.1-14.9l2.6-14.8l2.1-14.9l1.5-14.9l1-14.8l0.5-14.9l-0.1-14.9l-0.7-14.8l-1.2-14.9l-1.6-13.2l-2.2-13.2l-2.7-13.2l-3.4-13.2l-3.9-13.3l-4.8-13.2l-4.7-11.5l-5.6-11.6l-5.3-9.9z"/>
<path fill="#d3c126" stroke="#d3c126" stroke-width="0.6" fill-rule="evenodd" d="M1703.4 32l0.6-1.6l241.1 0l8.3 16l6.7 15.4l5.9 16.5l5.2 18.2l4 18.2l3.1 19.8l1.9 18.7l1 19.3l-0 19.8l-1.1 21.5l-2 19.8l-3.2 21.3l-4 20l-5.1 19.8l-6.1 19.8l-6.7 18.2l-6.7 15.4l-8 16l-8.1 13.6l-8.9 13l-8.9 10.9l-10.5 10.4l-9.2 7.2l-9.9 6l-58.5-0l-11.9-7l-10.8-8.1l-10.7-10l-11.7-12.9l-13.3-17.6l-12.5-19.3l-12.5-22.5l-10.7-22.3l-10.7-25.7l-8.8-24.7l-7.4-24.8l-6.4-26.4l-4.6-24.8l-2.9-23.1l-1.5-23.2l0.1-23.1l1.6-21.5l3.1-19.8l4.4-18.1l6.3-18.2z"/>
<path fill="none" stroke="#000" stroke-width="1.1" d="M1609.2 425.2l-12.9-36.5l-12.2-36.2l-11-34.7l-9-30.1M1683.1 425.2l-11.8-27.3l-11.6-28.9l-10.5-28l-9.8-28.1l-8.9-28.1l-7.4-25.9l-6.9-26.9l-5.6-25.1l-4.6-24.5l-3.8-24.8l-2.7-23.1l-1.5-21.5l-0.7-21.4l0.4-21.5l1.4-19.8l2.5-19.8M1945.1 30.4l5.4 9.9l5.5 11.6l4.8 11.5l4.7 13.2l4 13.3l3.3 13.2l2.7 13.2l2.2 13.2l1.6 13.2l1.3 14.9l0.6 14.8l0.1 14.9l-0.5 14.9l-1 14.8l-1.5 14.9l-2.1 14.9l-2.6 14.8l-3.1 14.9l-3.8 14.9l-4.3 14.9l-5 14.8l-5.1 13.2l-5.7 13.2l-5.7 11.6l-5.4 9.9l-7 11.5l-7.2 10.1l-7.1 8.9l-7.2 7.6l-8.9 8.1l-7.2 5.2l-8.1 4.7M1824.4 425.2l-8.4-4.6l-7.1-4.8l-8.9-7.1l-7.2-6.7l-7.8-8.2l-8.3-9.8l-8.8-11.7l-7.3-10.6l-7.1-11.4l-8.2-14.3l-7.7-14.9l-6.2-13.2l-6.5-14.8l-6.6-16.5l-5.9-16.6l-4.8-14.8l-8-29.8l-6.1-29.7l-2.3-14.9l-1.7-14.8l-1.2-14.9l-0.4-13.2l0-14.9l0.7-13.2l1.3-13.2l1.7-11.5l2.2-11.6l2.9-11.6l3.2-10.2l4.2-11.2"/>
</g>
<path d="M1568.3 34.3 V6.3 Q1568.3 3.3 1571.3 3.3 H1983.8 Q1986.8 3.3 1986.8 6.3 V34.3" fill="#fff" stroke="#000" stroke-width="2.4"/>
<text x="1777.5" y="31.7" font-size="34.0" font-weight="bold" text-anchor="middle">Power*Tension</text>
<rect x="1568.3" y="34.3" width="418.5" height="387.0" fill="none" stroke="#000" stroke-width="2.4"/>
<text x="1568.3" y="457.7" font-size="29.0" font-weight="bold" text-anchor="middle">0.5</text>
<text x="1672.9" y="457.7" font-size="29.0" font-weight="bold" text-anchor="middle">1.0</text>
<text x="1777.5" y="457.7" font-size="29.0" font-weight="bold" text-anchor="middle">1.5</text>
<text x="1882.2" y="457.7" font-size="29.0" font-weight="bold" text-anchor="middle">2.0</text>
<text x="1986.8" y="457.7" font-size="29.0" font-weight="bold" text-anchor="middle">2.5</text>
<text x="1553.8" y="432.2" font-size="29.0" font-weight="bold" text-anchor="end">10</text>
<text x="1553.8" y="335.5" font-size="29.0" font-weight="bold" text-anchor="end">20</text>
<text x="1553.8" y="238.7" font-size="29.0" font-weight="bold" text-anchor="end">30</text>
<text x="1553.8" y="142.0" font-size="29.0" font-weight="bold" text-anchor="end">40</text>
<text x="1553.8" y="45.2" font-size="29.0" font-weight="bold" text-anchor="end">50</text>
<path d="M1568.3 421.3v10.5M1672.9 421.3v10.5M1777.5 421.3v10.5M1882.2 421.3v10.5M1986.8 421.3v10.5M1568.3 421.3h-10.5M1568.3 324.6h-10.5M1568.3 227.8h-10.5M1568.3 131.1h-10.5M1568.3 34.3h-10.5" stroke="#000" stroke-width="2.4" fill="none"/>
<clipPath id="clip_bPS"><rect x="1066.3" y="517.0" width="418.5" height="387.0"/></clipPath>
<g clip-path="url(#clip_bPS)">
<path fill="#f4960b" stroke="#f4960b" stroke-width="0.6" fill-rule="evenodd" d="M1062.7 772.4l5.9 11.6l6.7 11.5l7.6 11.6l7.4 9.9l8.2 9.9l8.3 8.9l9.6 9.3l9.5 8.2l10.7 8.3l11.3 7.9l11 7l12.2 6.9l12.5 6.4l14.1 6.5l14.5 5.9l15.1 5.6l-165.1 0l-0-136.6z"/>
<path fill="#f9c744" stroke="#f9c744" stroke-width="0.6" fill-rule="evenodd" d="M1063.9 513.1l27 0l0.9 23.1l1.7 23.1l2.3 21.5l3.1 21.5l3.7 19.8l4.6 19.8l5.2 18.2l5.6 16.5l6.5 16.5l7.3 15.8l7.4 14l9 14.8l9.1 13.2l10.4 13.2l11.9 13.3l11.7 11.5l11.3 9.9l12.6 9.9l13 9.3l12.5 8l14.3 8.2l14.6 7.6l15.8 7.4l16 6.8l19.3 7.2l20 6.8l21.9 6.5l22.8 5.9l24.4 5.6l24.7 5l25.9 4.5l28.6 4.3l-0 6l-261.8 0l-16.8-6.3l-16.4-6.9l-15.8-7.5l-14.3-7.7l-14.3-8.7l-12.5-8.7l-11.2-8.7l-11.3-9.9l-8.5-8.2l-7.6-8.3l-13.3-16.5l-6.8-9.9l-5.6-9l-5.3-9.6l-5.4-10.6l0-258.2z"/>
<path fill="#fde847" stroke="#fde847" stroke-width="0.6" fill-rule="evenodd" d="M1092.5 513.1l58.4 0l2.7 18.2l3 16.5l3.6 16.5l4.2 16.5l4.8 16.5l5 14.9l5.7 14.9l5.6 13.2l6.4 13.2l7.1 13.2l7.8 13.2l7.7 11.6l8.5 11.5l8.8 11l9.3 10.5l10.4 10.7l10.7 10l10.6 9l10.8 8.5l12.5 9l12.5 8.2l12.5 7.6l14.3 7.9l14.3 7.2l14.3 6.6l16.1 6.8l16 6.3l17.8 6.3l35.8 11l39.3 10l0 52.2l-26.8-4l-25-4.3l-25-5l-23.2-5.2l-21.4-5.5l-21.9-6.3l-20.3-6.6l-18.6-6.8l-17.8-7.3l-17.9-8.3l-16.1-8.3l-15.4-8.9l-14.9-9.8l-13.9-10.1l-12.9-10.6l-11.8-10.8l-11.2-11.6l-9.9-11.6l-10-13.1l-8.9-13.3l-8.8-14.8l-7.3-14.4l-6.9-15.4l-6.3-16.5l-5.4-16.5l-5-18.2l-4.1-18.1l-3.6-19.9l-2.9-19.8l-2.3-21.5l-1.6-23.1l-1-23.1z"/>
<path fill="#d3c126" stroke="#d3c126" stroke-width="0.6" fill-rule="evenodd" d="M1151.4 513.1l60.7 0l6 21.5l7.1 21.4l7.6 19.9l8.9 19.8l9.7 18.6l10.6 17.7l11.2 16.5l12.7 16.6l10 11.5l9.1 9.7l10.3 10.1l9.3 8.5l10.8 9.1l11.4 8.9l11.8 8.4l12.5 8.3l13.1 8l13.7 7.8l27.2 13.7l30.6 13.2l33.3 12.2l-0 55.1l-39.3-10l-35.9-11l-17.7-6.3l-16.1-6.3l-16.1-6.8l-15.2-7.1l-15.1-7.7l-12.9-7.1l-13.6-8.3l-12.4-8.2l-11.5-8.3l-12.1-9.6l-10.7-9.3l-10.8-10.2l-10.1-10.5l-8.6-10l-9.2-11.5l-8.4-11.6l-7.5-11.5l-7.8-13.2l-7-13.3l-6.2-13.2l-5.6-13.2l-5.6-14.9l-5-14.8l-4.3-14.9l-4.1-16.5l-3.6-16.5l-3-16.5l-2.8-18.2z"/>
<path fill="#a1bd43" stroke="#a1bd43" stroke-width="0.6" fill-rule="evenodd" d="M1213.9 513.1l61 0l7.4 18.2l8.4 18.3l9.4 18l9.7 16.5l11 16.5l10.9 14.9l12.3 14.9l12 13.2l13.3 13.2l14.8 13.2l15.6 12.6l16 11.7l17.9 11.8l17 10.2l18.7 10.1l19.7 9.6l-0 58.5l-28.6-10.4l-26.8-11.1l-25.4-12.2l-24-13.2l-21.1-13.2l-20.7-14.8l-19.5-16.2l-17.7-16.9l-16.3-17.8l-14.5-18.5l-13.5-19.8l-12.5-21.5l-10.6-21.5l-9.6-23.1l-8.6-24.8l-7.5-26.4z"/>
<path fill="#0b7471" stroke="#0b7471" stroke-width="0.6" fill-rule="evenodd" d="M1276.4 513.1l62.9 0l13.8 24.8l14.4 22l16.1 21.4l18.2 21l19.8 19.8l20.9 18.2l21.6 16.5l24.8 16.6l0 62.6l-19.6-9.6l-18.7-10.1l-17-10.2l-17.9-11.8l-16.1-11.7l-15.6-12.6l-14.7-13.2l-13.3-13.2l-12.1-13.2l-12.2-14.9l-11-14.9l-10.9-16.5l-9.7-16.5l-9.4-18l-8.4-18.3l-7.4-18.2z"/>
<path fill="#3d56c2" stroke="#3d56c2" stroke-width="0.6" fill-rule="evenodd" d="M1340.7 513.1l64.7 0l8.5 12.4l9.2 12.4l10.5 12.9l10.3 11.8l10.9 11.6l10.9 10.8l11.7 10.7l11.5 9.9l0 67.8l-24.8-16.6l-21.6-16.5l-20.9-18.2l-19.8-19.8l-18.2-21l-16.1-21.4l-14.4-22l-13.8-24.8z"/>
<path fill="#431a88" stroke="#431a88" stroke-width="0.6" fill-rule="evenodd" d="M1406.8 513.1l66.5 0l15.7 18l-0 74.5l-11.6-9.9l-11.7-10.7l-10.9-10.8l-10.9-11.6l-10.3-11.8l-10.5-12.9l-9.2-12.4l-8.5-12.4z"/>
<path fill="#561566" stroke="#561566" stroke-width="0.6" fill-rule="evenodd" d="M1474.7 513.1l14.3 0l-0 18l-15.6-18z"/>
<path fill="none" stroke="#000" stroke-width="1.1" d="M1227.2 907.9l-15.1-5.6l-14.4-6l-14.2-6.5l-12.5-6.4l-12.1-6.9l-11.1-6.9l-11.3-7.9l-10.6-8.3l-10.2-8.9l-9.6-9.3l-9.1-9.9l-8.1-9.9l-7.2-9.9l-7.5-11.6l-6.6-11.5l-5.5-11.1M1489 901.9l-26.8-4l-25-4.4l-25-4.9l-23.2-5.2l-21.5-5.5l-21.8-6.3l-20.3-6.6l-18.6-6.8l-17.8-7.4l-17.9-8.2l-16.1-8.3l-15.4-9l-14.9-9.7l-13.9-10.1l-12.9-10.6l-11.8-10.9l-11.2-11.5l-9.9-11.6l-10-13.1l-8.9-13.3l-8.8-14.9l-7.3-14.3l-6.9-15.4l-6.3-16.5l-5.4-16.5l-5-18.2l-4.1-18.2l-3.6-19.8l-2.9-19.8l-2.3-21.5l-1.7-23.1l-0.9-23.1M1489 849.6l-39.3-10l-35.8-11.1l-17.8-6.2l-16.1-6.3l-16-6.8l-15.3-7.1l-15.1-7.7l-12.8-7.1l-13.7-8.3l-12.4-8.3l-11.4-8.2l-12.2-9.6l-10.7-9.3l-10.7-10.2l-10.1-10.6l-8.7-9.9l-9.2-11.5l-8.3-11.6l-7.6-11.6l-7.8-13.2l-7-13.2l-6.2-13.2l-5.6-13.2l-5.6-14.9l-4.9-14.8l-4.3-14.9l-4.2-16.5l-3.6-16.5l-3-16.5l-2.7-18.2M1489 794.5l-28.6-10.4l-26.8-11.1l-25.3-12.2l-24.1-13.2l-21-13.2l-20.7-14.9l-19.6-16.2l-17.7-16.8l-16.2-17.9l-14.6-18.4l-13.4-19.9l-12.5-21.4l-10.6-21.5l-9.7-23.2l-8.5-24.7l-7.5-26.4M1489 736l-19.6-9.6l-18.7-10.2l-17.1-10.1l-17.8-11.8l-16.1-11.7l-15.6-12.6l-14.7-13.2l-13.4-13.2l-12-13.2l-12.2-14.9l-11-14.9l-10.9-16.5l-9.7-16.5l-9.5-18.1l-8.4-18.2l-7.3-18.2M1489 673.4l-24.8-16.6l-21.7-16.5l-20.8-18.2l-19.9-19.8l-18.2-21l-16.1-21.4l-14.3-22l-13.8-24.8M1489 605.6l-11.6-9.9l-11.6-10.7l-11-10.8l-10.9-11.5l-10.3-11.8l-10.4-13l-9.2-12.4l-8.6-12.4M1489 531.1l-15.6-18"/>
</g>
<path d="M1066.3 517.0 V488.7 Q1066.3 485.7 1069.3 485.7 H1481.8 Q1484.8 485.7 1484.8 488.7 V517.0" fill="#fff" stroke="#000" stroke-width="2.4"/>
<text x="1275.5" y="514.4" font-size="34.0" font-weight="bold" text-anchor="middle">Power*Speed</text>
<rect x="1066.3" y="517.0" width="418.5" height="387.0" fill="none" stroke="#000" stroke-width="2.4"/>
<text x="1066.3" y="940.4" font-size="29.0" font-weight="bold" text-anchor="middle">2</text>
<text x="1170.9" y="940.4" font-size="29.0" font-weight="bold" text-anchor="middle">4</text>
<text x="1275.5" y="940.4" font-size="29.0" font-weight="bold" text-anchor="middle">6</text>
<text x="1380.2" y="940.4" font-size="29.0" font-weight="bold" text-anchor="middle">8</text>
<text x="1484.8" y="940.4" font-size="29.0" font-weight="bold" text-anchor="middle">10</text>
<text x="1051.8" y="914.9" font-size="29.0" font-weight="bold" text-anchor="end">10</text>
<text x="1051.8" y="818.2" font-size="29.0" font-weight="bold" text-anchor="end">20</text>
<text x="1051.8" y="721.4" font-size="29.0" font-weight="bold" text-anchor="end">30</text>
<text x="1051.8" y="624.7" font-size="29.0" font-weight="bold" text-anchor="end">40</text>
<text x="1051.8" y="527.9" font-size="29.0" font-weight="bold" text-anchor="end">50</text>
<path d="M1066.3 904.0v10.5M1170.9 904.0v10.5M1275.5 904.0v10.5M1380.2 904.0v10.5M1484.8 904.0v10.5M1066.3 904.0h-10.5M1066.3 807.2h-10.5M1066.3 710.5h-10.5M1066.3 613.8h-10.5M1066.3 517.0h-10.5" stroke="#000" stroke-width="2.4" fill="none"/>
<clipPath id="clip_cST"><rect x="504.2" y="1127.9" width="446.7" height="414.0"/></clipPath>
<g clip-path="url(#clip_cST)">
<path fill="#f4960b" stroke="#f4960b" stroke-width="0.6" fill-rule="evenodd" d="M501.6 1123.8l19.5 0l-21.4 28.1l-0-28.1zM934.4 1123.8l21 0l-0 205.5l-3.8-15.2l-7.2-24.2l-4.3-17.7l-4.2-23l-3-22.9l-1.5-21.2l-0.4-28.3l0.8-23l2.2-30z"/>
<path fill="#f9c744" stroke="#f9c744" stroke-width="0.6" fill-rule="evenodd" d="M520.7 1124.4l0.5-0.6l34.4-0l-24.8 33.6l-13 15.9l-18.1 19.6l0-41l20.1-26.3zM898.2 1123.8l35.8 0l-2.1 28.3l-0.8 19.4l0 23l0.9 21.2l3.1 28.2l4.3 24.8l4.5 19.4l7.7 26l3.8 15.2l-0 83.9l-8.1-13.8l-6.3-12.3l-6.3-14.2l-6.2-15.9l-5.3-15.9l-5.1-17.6l-4.9-19.5l-4.6-21.2l-3.9-21.2l-3.1-21.2l-2.2-19.4l-1.7-21.2l-0.9-19.5l-0.3-19.4l0.5-21.2l1.1-15.9z"/>
<path fill="#fde847" stroke="#fde847" stroke-width="0.6" fill-rule="evenodd" d="M555 1124.5l0.6-0.7l46.4-0l-26 29.7l-32.4 39.9l-12.8 15.2l-12 13.1l-19.1 19.5l0-48.4l16.5-17.8l9-10.6l29-38.9zM852.4 1123.8l45.7 0l-1 14.1l-0.6 17.7l0.1 17.7l0.5 17.6l1.3 19.5l1.7 17.6l2.2 17.7l2.7 17.7l4.2 23l5.2 22.9l5.6 21.2l6 19.5l6.5 17.6l6.8 15.9l8 15.9l8 13.8l0 54.1l-13.7-16.6l-11.8-15.9l-10.5-15.9l-10.3-17.7l-9.8-19.4l-7.9-17.7l-7.4-19.4l-7-21.2l-5.8-21.2l-5.3-23l-4.5-24.8l-3.5-24.7l-2.8-26.5l-1.6-23l-1.2-37.1l0.1-19.4z"/>
<path fill="#d3c126" stroke="#d3c126" stroke-width="0.6" fill-rule="evenodd" d="M600.8 1125.3l1.2-1.5l75-0l-40 38l-34.3 33.5l-93.4 93.1l-9.5 10l-0-57.2l19-19.5l12-13.1l12.8-15.2l32.4-39.9l24.6-28zM776.2 1123.8l76.2 0l-0.2 17.7l1.1 35.3l1.3 21.2l2.3 23l2.9 22.9l3.4 21.2l4.2 21.3l5.1 21.2l6.7 22.9l8 23l8.8 21.2l9.3 19.4l10.8 19.5l11.3 17.6l12.8 17.7l15.2 18.4l0 46.3l-21-17.3l-13.3-12l-13.8-14.2l-12.1-14.1l-12-15.9l-11.6-17.7l-11.1-19.4l-9.7-19.5l-8.4-19.4l-7.5-19.4l-6.7-19.5l-7.1-22.9l-11-40.7l-24.4-97.9l-9.2-32.8l-1.6-7.1z"/>
<path fill="#a1bd43" stroke="#a1bd43" stroke-width="0.6" fill-rule="evenodd" d="M677 1123.8l97.8 0l1.6 7.1l11.2 40.1l22 88.8l9.4 35.4l6.3 21.2l6.4 19.4l6.4 17.7l7.2 17.7l9.7 21.2l11.3 21.2l12 19.4l12.6 17.7l13.2 15.9l15.1 15.9l13.4 12.3l22.7 18.8l0 32.5l-25.5-0l-6.9-6.2l-13.3-14.7l-11.5-11.6l-48.6-45.3l-10.8-10.6l-10.1-10.6l-9.1-10.6l-6.9-8.8l-6.2-8.8l-6.6-10.6l-11.7-21.2l-21.5-43.4l-7.6-14.6l-7.6-13.2l-9.6-14.4l-11.4-14.6l-5.7-6.1l-5.8-5.4l-5.7-4.7l-5.7-3.9l-5.7-3.2l-5.7-2.5l-7.7-2.3l-9.5-1.5l-9.5-0.3l-11.5 1.1l-9.5 2l-11.4 3.7l-11.2 4.9l-9.8 5.3l-9.5 6.1l-8.8 6.3l-19.8 16.2l-45.8 42.1l-24.3 21.2l-4.3 4.6l-3.8 5.3l0-77.4l9.5-9.9l93.4-93.2l34.4-33.4l40-38.1z"/>
<path fill="#0b7471" stroke="#0b7471" stroke-width="0.6" fill-rule="evenodd" d="M659.9 1257.8l9.5-0.8l9.6 0.3l9.5 1.5l7.6 2.3l7.6 3.5l7.7 4.7l7.6 6.1l7.6 7.4l5.7 6.4l7.7 9.6l7.6 11.1l5.7 9.2l11.5 20.8l20.7 41.9l9.3 17.6l10.5 17.7l10 14.1l11.8 14.2l13.4 14.1l14.6 14.1l42 38.9l12.2 12.4l13.7 15l6.9 6.2l-103.1-0l-6.8-6.7l-24.7-18.8l-21-18.1l-21-20.4l-38.1-39.9l-11.5-10.6l-9.5-7.6l-7.6-5.3l-7.6-4.5l-5.8-2.8l-7.6-3.1l-7.6-2.3l-7.6-1.7l-7.7-1l-9.5-0.5l-11.4 0.7l-9.6 1.5l-11.4 3l-9.5 3.7l-9.6 4.8l-9.5 6.3l-9.5 7.8l-7.7 7.7l-9.5 11.4l-9.1 13.3l-8 14.3l-6.5 14l-5.4 14.1l-4.2 14.2l-1.2 7l-0.3 7.1l-1.3 8.8l-0 3.6l-9.7-0l-0-170.3l4.7-6.4l4.8-4.9l22.8-19.8l43.9-40.4l11.5-9.8l11.4-9l15.2-10.3l7.7-4.4l7.6-3.8l7.6-3.2l7.6-2.6l13.4-3.1z"/>
<path fill="#3d56c2" stroke="#3d56c2" stroke-width="0.6" fill-rule="evenodd" d="M629.4 1402.9l9.5 0.1l7.7 0.7l7.6 1.4l7.6 2l7.6 2.6l7.7 3.5l7.6 4.3l7.6 5l11.5 9.1l11.4 10.6l38.1 39.9l21 20.4l21 18.1l24.7 18.8l6.8 6.7l-317.3-0l-0-3.6l1.1-7l0.5-8.9l0.8-5.3l3.1-11.5l4.7-13.2l6.8-15.4l6.7-12.9l7.8-12.3l8.3-11.2l7.7-8.6l9.5-8.9l9.5-7.2l9.6-5.7l9.5-4.3l11.4-3.8l11.5-2.4l10.3-0.9z"/>
<path fill="none" stroke="#000" stroke-width="1.1" d="M934 1123.8l-2.2 30l-0.8 23l0.4 28.3l1.6 21.2l2.9 22.9l4.2 23l4.3 17.7l7.2 24.2l3.8 15.2M499.7 1151.8l21.4-28.1M898.1 1123.8l-1.1 15.9l-0.5 21.2l0.3 19.4l0.9 19.5l1.7 21.2l2.2 19.4l3.1 21.2l3.8 21.2l4.6 21.2l4.9 19.5l5.2 17.6l5.3 15.9l6.2 15.9l6.3 14.2l6.3 12.3l8.1 13.8M499.7 1192.8l16.5-17.8l9-10.6l30.4-40.7M852.4 1123.8l-0.2 19.4l1.2 37.1l1.7 23l2.8 26.5l3.5 24.7l4.5 24.8l5.2 23l5.9 21.2l6.9 21.2l7.5 19.4l7.8 17.7l9.9 19.4l10.3 17.7l10.4 15.9l11.8 15.9l13.8 16.6M499.7 1241.2l19.1-19.4l12-13.2l12.7-15.1l32.5-39.9l26-29.8M774.8 1123.8l1.6 7.1l9.3 32.8l24.3 97.9l11 40.7l7.1 22.9l6.7 19.5l7.5 19.4l8.5 19.4l9.6 19.5l11.1 19.4l11.6 17.7l12 15.9l12.1 14.1l13.8 14.2l13.4 12l20.9 17.3M499.7 1298.4l9.5-9.9l93.4-93.2l34.4-33.4l40-38.1M499.7 1375.8l3.8-5.3l4.3-4.7l22.3-19.4l49.7-45.5l11.1-9.3l9.2-7l8.3-5.8l9.5-5.9l11.4-5.9l9.6-3.9l11.4-3.5l9.5-1.8l9.6-0.8l9.5 0.2l9.5 1.6l8.9 2.8l6.4 3l5.7 3.4l5.7 4.2l5.7 4.9l5.8 5.6l5.7 6.4l11.4 15.1l7.6 11.7l9.6 16.7l25.4 50.9l10.4 19.4l10.9 17.7l11.9 15.9l10.7 12.4l12 12.3l54 50.5l13.1 13.2l13.6 15l6.9 6.2M509.4 1546l0-3.5l1.3-8.9l0.4-7l1.1-7.1l3-10.6l5.5-14.9l5.9-13.4l7.4-13.8l7.6-11.9l9.6-12.4l7.6-8.3l9.5-8.6l9.6-6.8l9.5-5.4l11.4-4.8l11.5-3.3l11.4-1.9l11.5-0.6l9.5 0.4l7.6 1.1l7.6 1.6l7.7 2.3l7.6 3.1l5.7 2.8l7.6 4.5l7.7 5.3l9.5 7.6l11.4 10.6l38.2 39.9l20.9 20.4l21 18.1l24.8 18.8l6.7 6.7"/>
</g>
<path d="M504.2 1127.9 V1098.2 Q504.2 1095.2 507.2 1095.2 H947.9 Q950.9 1095.2 950.9 1098.2 V1127.9" fill="#fff" stroke="#000" stroke-width="2.4"/>
<text x="727.5" y="1124.7" font-size="36.1" font-weight="bold" text-anchor="middle">Speed*Tension</text>
<rect x="504.2" y="1127.9" width="446.7" height="414.0" fill="none" stroke="#000" stroke-width="2.4"/>
<text x="504.2" y="1579.8" font-size="31.3" font-weight="bold" text-anchor="middle">0.5</text>
<text x="615.9" y="1579.8" font-size="31.3" font-weight="bold" text-anchor="middle">1.0</text>
<text x="727.5" y="1579.8" font-size="31.3" font-weight="bold" text-anchor="middle">1.5</text>
<text x="839.2" y="1579.8" font-size="31.3" font-weight="bold" text-anchor="middle">2.0</text>
<text x="950.9" y="1579.8" font-size="31.3" font-weight="bold" text-anchor="middle">2.5</text>
<text x="489.7" y="1553.6" font-size="31.3" font-weight="bold" text-anchor="end">2</text>
<text x="489.7" y="1450.1" font-size="31.3" font-weight="bold" text-anchor="end">4</text>
<text x="489.7" y="1346.6" font-size="31.3" font-weight="bold" text-anchor="end">6</text>
<text x="489.7" y="1243.1" font-size="31.3" font-weight="bold" text-anchor="end">8</text>
<text x="489.7" y="1139.6" font-size="31.3" font-weight="bold" text-anchor="end">10</text>
<path d="M504.2 1541.9v10.5M615.9 1541.9v10.5M727.5 1541.9v10.5M839.2 1541.9v10.5M950.9 1541.9v10.5M504.2 1541.9h-10.5M504.2 1438.4h-10.5M504.2 1334.9h-10.5M504.2 1231.4h-10.5M504.2 1127.9h-10.5" stroke="#000" stroke-width="2.4" fill="none"/>
<clipPath id="clip_cPT"><rect x="1040.6" y="1127.9" width="446.7" height="414.0"/></clipPath>
<g clip-path="url(#clip_cPT)">
<path fill="#931519" stroke="#931519" stroke-width="0.6" fill-rule="evenodd" d="M1181 1123.8l153.8 0l-5.1 10.7l-3.8 6.1l-3.4 4.4l-8.1 8.4l-9.5 7.2l-9.5 5.1l-11.5 4.2l-11.4 2.4l-13.3 0.8l-13.4-1.1l-11.4-2.5l-11.5-4.1l-11.4-6.1l-9.5-7l-4.1-3.8l-4.9-5.3l-6.5-8.8l-5.7-10.6z"/>
<path fill="#d20000" stroke="#d20000" stroke-width="0.6" fill-rule="evenodd" d="M1144.8 1123.8l36 0l5.7 10.6l6.5 8.8l4.9 5.3l4.1 3.8l9.5 7l11.5 6.1l11.4 4.1l11.4 2.5l13.4 1.1l13.3-0.8l11.5-2.4l11.4-4.2l9.5-5.1l9.6-7.2l8.1-8.4l3.3-4.4l3.8-6.1l5.1-10.7l36.6 0l-2.1 12.4l-2.1 8.8l-2.9 8.8l-4.1 9.4l-5.6 10.1l-5.8 8.4l-6.2 7.5l-7.2 7.3l-7.6 6.7l-9.5 6.8l-9.5 5.6l-9.6 4.5l-9.5 3.4l-9.5 2.5l-11.5 1.7l-9.5 0.4l-9.5-0.6l-11.5-1.9l-9.5-2.6l-9.5-3.5l-9.6-4.5l-9.5-5.6l-9.5-6.7l-7.7-6.5l-7.6-7.5l-7.6-8.9l-5.9-8.3l-5.3-8.8l-4.3-8.9l-3.4-8.8l-2.6-8.8l-2.7-12.4z"/>
<path fill="#f4960b" stroke="#f4960b" stroke-width="0.6" fill-rule="evenodd" d="M1116.2 1123.8l27.3 0l3.2 14.1l3.3 10.6l4.3 10l5.7 10.3l7.7 11l7.6 8.9l9.5 9.2l9.6 7.6l7.6 5.1l7.6 4.4l7.6 3.6l9.6 3.8l9.5 2.7l7.6 1.6l7.7 1l7.6 0.4l7.6-0.2l9.5-1.2l9.6-2.1l7.6-2.3l7.6-3l7.6-3.7l7.7-4.3l7.6-5.2l9.5-7.8l9.1-9.1l8.1-10.1l6-9.4l5.4-10.6l4-10.6l2.8-10.6l2.5-14.1l29.1-0l-2.5 19.4l-2.7 14.2l-3.7 14.1l-4.7 13.7l-5.7 13.4l-7.3 13.5l-8 12l-7.6 9.5l-9.5 10l-11.5 9.8l-11.4 8.1l-13.3 7.5l-11.5 5l-13.3 4.1l-13.4 2.4l-11.4 0.6l-11.4-0.8l-11.5-2.2l-12.7-4.1l-12.1-5.4l-13.3-7.7l-11.4-8.2l-11.5-9.7l-11.4-11.3l-10.8-12.5l-9.2-12.4l-9-14.1l-7.5-14.1l-6.2-14.2l-4.7-14.1l-2.8-12.4l-1.9-14.1z"/>
<path fill="#f9c744" stroke="#f9c744" stroke-width="0.6" fill-rule="evenodd" d="M1093.3 1123.8l22.3 0l2.2 15.9l3.5 14.1l5.8 15.9l7.6 15.9l9.5 15.9l10.1 14.4l11.4 13.7l13.4 13.4l9.5 8.2l11.5 8.4l9.5 5.9l11.4 5.9l11.2 4.4l9.8 2.7l11.4 2l9.6 0.6l11.4-0.6l11.4-1.9l11.5-3.2l11.4-4.6l11.2-5.7l9.8-6.1l10.7-8l9.8-8.8l10-10.8l9.5-12.7l7.7-12.6l7.2-15.2l5.8-15.9l4.4-15.9l3.1-15.9l2.5-19.4l24.6-0l-0.4 10.6l-5 44.2l-3 19.4l-3.8 17.7l-4.6 15.9l-5.6 14.1l-6.3 12.4l-8.1 12.3l-5.1 6.6l-5.7 6.5l-6.3 6.4l-7.1 6.3l-13.3 10.2l-15.3 9.2l-15.2 7l-7.7 2.8l-9.5 2.9l-15.2 2.9l-15.3 1l-15.2-1l-9.6-1.5l-7.6-1.8l-7.6-2.2l-9.6-3.5l-15.2-7l-9.5-5.4l-7.7-4.9l-15.2-11.4l-15.3-13.7l-13.3-14.2l-12.9-16.4l-11.7-17.6l-9.6-17.7l-7.8-17.8l-5.7-17.5l-4-17.7l-1.7-14.1l-1-23z"/>
<path fill="#fde847" stroke="#fde847" stroke-width="0.6" fill-rule="evenodd" d="M1070.4 1123.8l21.9 0l1.1 24.7l2.2 15.9l4.4 17.7l2.8 8.8l4.1 10.6l4.7 10.6l4.6 9l5.7 10.1l5.8 9.2l6.1 8.8l7.1 9.5l7.7 9l7.6 8.3l13.3 12.7l13.4 10.8l15.2 10.3l15.3 8.2l15.2 6.4l13.4 4l15.2 2.8l15.3 1l13.3-0.8l15.3-2.7l15.2-4.6l15.3-6.6l15.2-8.6l13.4-9.6l11.4-10l11.5-12.3l9.5-12.9l7.5-13.1l6.1-14.1l5.4-16.7l4-16.9l3.5-21.2l5.3-45.9l0.6-12.4l19.4 0l-0.3 8.8l1.1 40.7l-0.2 22.9l-1.3 23l-2.8 23l-2.2 12.3l-2.3 10l-5.7 19l-3.8 9.8l-3.8 8.3l-3.8 7.2l-4.6 7.6l-5 7l-5.7 7.1l-6.6 7.1l-7.7 7.1l-8.6 6.7l-7.6 5.2l-7.6 4.6l-9.5 5l-9.6 4.3l-9.5 3.7l-9.5 3l-11.5 3l-9.5 1.9l-11.4 1.7l-11.5 1l-11.4 0.3l-11.5-0.4l-11.4-1l-11.4-1.6l-9.6-1.9l-9.5-2.3l-11.4-3.5l-11.5-4.2l-9.9-4.3l-10.6-5.3l-9.1-5.3l-8.5-5.6l-9.2-6.8l-8-6.7l-7.6-7.3l-6.6-7.2l-6.7-8.2l-5.8-7.9l-6.6-10.4l-4.8-8.5l-5.7-11.6l-7.7-18.8l-3.7-11.2l-3.9-13.2l-5.7-25.8l-3.8-25.8l-2.5-30l-0.5-26.5z"/>
<path fill="#d3c126" stroke="#d3c126" stroke-width="0.6" fill-rule="evenodd" d="M1051.4 1123.8l18 0l0 14.1l0.7 15.9l2.7 30.1l2 14.1l2.6 14.1l2.6 12.2l3.8 14.5l3.8 12.2l3.8 10.5l3.8 9.3l5.8 12.2l5.7 10.5l5.7 9.3l5.8 8.3l7.6 9.4l5.7 6.5l7.6 7.5l7.6 6.6l7.6 5.9l7.7 5.3l9.5 5.9l9.5 5.1l9.6 4.5l9.5 3.9l9.5 3.3l10.8 3.2l10.2 2.5l9.5 1.7l11.5 1.5l11.4 0.9l9.5 0.3l9.6-0.2l11.4-0.9l19.1-3l9.5-2.2l9.5-2.7l9.6-3.3l9.5-3.9l9.5-4.6l7.7-4.2l9.5-6l7.6-5.6l6.8-5.6l6.6-6.2l5.7-6.2l5.7-7.1l5.7-8.2l4.5-7.6l5.1-10l3.8-9l3.8-10.7l2.7-9.2l2.6-10.6l2.3-11.8l3.1-23.6l1.6-24.7l0.2-24.7l-1.1-40.7l0.3-8.8l21 0l0.5 8.8l-1.3 23l-0.3 24.7l1.4 83.1l-0.4 17.7l-0.9 15.9l-2.6 22.9l-3.8 19.5l-5.5 19.4l-3.3 8.8l-3.2 7.1l-3.8 7.2l-3.8 5.9l-4.9 6.3l-5.1 5.3l-6.2 5.3l-6.7 4.8l-7.6 4.6l-7.6 3.8l-9.6 4l-9.5 3.2l-9.4 2.6l-9.7 2.1l-9.5 1.5l-11.4 1.3l-11.5 0.7l-13.3 0.3l-15.3-0.4l-17.1-1.1l-43.9-4.8l-17.1-2.6l-15.3-2.9l-15.2-3.4l-13.4-3.6l-13.3-4.3l-11.5-4.4l-11.4-5.2l-9.5-5.1l-9.6-5.9l-8.6-6.4l-8-7l-6.7-7.1l-5.7-7.1l-4.7-7l-4.4-7.9l-3.8-8.1l-3.8-9.7l-3.7-11.4l-3.3-12.4l-2.7-12.4l-3.7-19.4l-3.8-23.7l-5.8-45.2l-2.9-30.1l-1.9-26.5l-0.5-12.3l0.3-12.4z"/>
<path fill="#a1bd43" stroke="#a1bd43" stroke-width="0.6" fill-rule="evenodd" d="M1038 1123.8l12.1 0l-0.4 12.4l0.7 15.9l2.4 30l3.6 35.3l3.5 26.5l4.5 28.3l4.1 22.1l3.8 16.5l5.7 18.8l3.8 9.7l3.4 7.1l3.8 7.1l4.3 6.7l8.7 11l7 7l8.4 7.1l8.3 5.9l9.5 5.7l9.6 4.9l11.4 5.1l11.4 4.2l13.4 4.2l13.3 3.6l13.4 2.9l15.2 2.9l17.2 2.6l43.8 4.8l17.2 1.1l15.2 0.4l22.9-0.9l11.5-1.1l9.5-1.5l9.5-1.9l9.5-2.5l9.6-3.1l7.6-3l7.6-3.5l7.8-4.3l7.5-4.9l5.7-4.5l5.1-4.7l4.8-5.3l5.1-7.1l4.1-6.9l3.8-7.9l3.3-8.2l2.9-8.8l3-10.6l4.4-21.2l2.7-23l1-15.9l0.5-19.4l-1.5-83.1l0.3-24.7l1.3-23l-0.5-8.8l16.5 0l0.8 10.6l1.9 14.1l2.5 24.8l-1 28.2l0.4 15.9l1.7 15.9l3.6 27.1l0 285.7l-27.6-0l-3.5-7.1l-5.7-7.1l-9.3-8.8l-11.5-8.8l-9.1-5.7l-11.4-5.8l-13.4-5.5l-15.2-5l-13.4-3.6l-13.3-2.9l-15.3-2.7l-15.2-2.2l-32.4-3.3l-64.9-4.5l-24.7-2.2l-26.7-3.4l-22.9-4.2l-13.3-3.3l-11.5-3.3l-12-4.3l-10.9-4.5l-9.5-4.8l-9.5-5.6l-9-6.3l-8.2-6.8l-5.7-5.7l-5.9-6.9l-5.5-7.9l-4.6-8l-4-8.8l-2.9-8.3l-2.3-9.4l-1.5-8.8l-1.1-12.4l-0.6-15.9l-0.6-70.7l-1.5-50.4l-0-87.4z"/>
<path fill="#0b7471" stroke="#0b7471" stroke-width="0.6" fill-rule="evenodd" d="M1482.2 1123.8l9.5 0l0 136.6l-3.6-27.1l-1.7-15.9l-0.4-15.9l1-28.2l-2.5-24.8l-1.9-14.1l-0.8-10.6zM1036.2 1212.1l1.4 49.5l0.8 75.9l1.2 19.5l1.8 12.4l2.2 8.8l3.1 8.8l3.9 8.9l4.6 8l5.6 7.9l5.9 6.9l5.7 5.7l7.6 6.4l8 5.7l8.7 5.3l8.1 4.2l10.3 4.6l10.7 4.1l11.4 3.7l11.4 3.1l13.4 2.9l22.8 3.9l24.9 2.9l85.7 6.4l32.4 3.3l17.2 2.4l14.5 2.7l14.1 3.1l13.3 3.7l13.4 4.5l13.3 5.4l11.5 5.8l9.5 6l11.1 8.6l9.2 8.8l5.8 7.1l3.4 7l-74.6 0l-10.2-2.5l-26.2-4.5l-31-7.5l-24.8-5.4l-38.1-7l-22.9-3.2l-22.8-2.5l-21-1.4l-19.1-0.5l-20.9 0.5l-19.1 1.6l-19.1 2.7l-17.1 3.6l-21 6.2l-9.5 3.4l-7.7 3.3l-3.8 2.4l-2.3 2l-2.3 3.5l-2.2 5.3l-12.2 0l-0-334.9z"/>
<path fill="#3d56c2" stroke="#3d56c2" stroke-width="0.6" fill-rule="evenodd" d="M1146.7 1512.4l22.9-0.9l22.9 0.5l26.6 2l26.7 3.1l22.9 3.6l24.8 4.6l26.7 5.8l34.3 8.2l22.9 3.8l12.1 2.9l-341.1 0l3-6.8l1.9-2.4l1.9-1.6l7.6-4.1l11.5-4.3l17.1-5.4l17.2-4l17.1-2.9l20-2z"/>
<path fill="none" stroke="#000" stroke-width="1.1" d="M1180.8 1123.8l5.7 10.6l6.5 8.8l4.9 5.3l4.1 3.8l9.5 7l11.4 6.1l11.5 4.1l11.4 2.5l13.4 1.1l13.3-0.8l11.4-2.4l11.5-4.2l9.5-5.1l9.5-7.2l8.1-8.4l3.4-4.4l3.8-6.1l5.1-10.7M1143.5 1123.8l2.7 12.4l2.6 8.8l3.4 8.8l4.3 8.9l5.2 8.8l5.9 8.3l7.7 8.9l7.6 7.5l7.6 6.5l9.6 6.7l9.5 5.6l9.5 4.5l9.6 3.5l9.5 2.6l11.4 1.9l9.6 0.6l9.5-0.4l11.4-1.7l9.6-2.5l9.5-3.4l9.5-4.5l9.6-5.6l9.5-6.8l7.6-6.7l7.2-7.3l6.2-7.5l5.8-8.4l5.6-10.1l4.1-9.4l2.9-8.8l2.1-8.8l2.1-12.4M1115.6 1123.8l1.8 14.1l2.8 12.4l4.8 14.1l6.1 14.2l7.6 14.1l9 14.1l9.2 12.4l10.7 12.5l11.5 11.3l11.4 9.7l11.4 8.2l13.4 7.7l12 5.4l12.8 4.1l11.4 2.2l11.5 0.8l11.4-0.6l13.3-2.4l13.4-4.1l11.4-5l13.4-7.5l11.4-8.1l11.4-9.8l9.6-10l7.6-9.5l8-12l7.3-13.5l5.7-13.4l4.6-13.7l3.7-14.1l2.7-14.2l2.5-19.4M1092.4 1123.8l1 23l1.7 14.1l3.9 17.7l5.8 17.5l7.8 17.8l9.6 17.7l11.6 17.6l12.9 16.4l13.4 14.2l15.2 13.7l15.3 11.4l7.6 4.9l9.5 5.4l15.3 7l9.5 3.5l7.6 2.2l7.7 1.8l9.5 1.5l15.3 1l15.2-1l15.3-2.9l9.5-2.9l7.6-2.8l15.3-7l15.2-9.2l13.4-10.2l7-6.3l6.3-6.4l5.7-6.5l5.2-6.6l8.1-12.3l6.3-12.4l5.5-14.1l4.7-15.9l3.8-17.7l3-19.4l5-44.2l0.4-10.6M1069.4 1123.8l0.5 26.5l2.5 30l3.8 25.8l5.7 25.8l3.8 13.2l3.8 11.2l7.7 18.8l5.7 11.6l4.8 8.5l6.6 10.4l5.8 7.9l6.7 8.2l6.6 7.2l7.6 7.3l8 6.7l9.2 6.8l8.4 5.6l9.2 5.3l10.5 5.3l10 4.3l11.4 4.2l11.5 3.5l9.5 2.3l9.6 1.9l11.4 1.6l11.4 1l11.5 0.4l11.4-0.3l11.4-1l11.5-1.7l9.5-1.9l11.5-3l9.5-3l9.5-3.7l9.5-4.3l9.6-5l7.6-4.6l7.6-5.2l8.6-6.7l7.6-7.1l6.7-7.1l5.7-7.1l5-7l4.6-7.6l3.8-7.2l3.8-8.3l3.8-9.8l5.7-19l2.3-10l2.2-12.3l2.8-23l1.2-23l0.3-22.9l-1.1-40.7l0.3-8.8M1050.1 1123.8l-0.4 12.4l0.5 12.3l2 26.5l2.9 30.1l5.8 45.2l3.8 23.7l3.6 19.4l2.8 12.4l3.3 12.4l3.7 11.4l3.8 9.7l3.8 8.1l4.4 7.9l4.7 7l5.6 7.1l6.7 7.1l8.1 7l8.6 6.4l9.5 5.9l9.6 5.1l11.4 5.2l11.4 4.4l13.4 4.3l13.3 3.6l15.3 3.4l15.2 2.9l17.2 2.6l43.8 4.8l17.2 1.1l15.3 0.4l13.3-0.3l11.4-0.7l11.5-1.3l9.5-1.5l9.6-2.1l9.5-2.6l9.5-3.2l9.5-4l7.7-3.8l7.6-4.6l6.7-4.8l6.1-5.3l5.1-5.3l5-6.3l3.8-5.9l3.8-7.2l3.1-7.1l3.3-8.8l5.6-19.4l3.7-19.5l2.7-22.9l0.9-15.9l0.4-17.7l-1.5-83.1l0.3-24.7l1.3-23l-0.5-8.8M1036.1 1211.1l1.5 50.5l0.8 75.9l1.2 19.5l1.8 12.3l2.2 8.9l3 8.8l4 8.8l4.6 8.1l5.5 7.8l5.9 7l5.7 5.6l7.6 6.5l8 5.7l8.7 5.3l8.1 4.2l10.3 4.6l10.7 4.1l11.4 3.7l11.5 3l13.3 3l22.8 3.9l24.9 2.9l85.8 6.4l32.4 3.3l17.1 2.4l14.5 2.7l14.1 3.1l13.4 3.7l13.3 4.4l13.4 5.5l11.4 5.8l9.5 6l11.1 8.6l9.3 8.8l5.7 7.1l3.5 7M1491.8 1260.4l-3.7-27.1l-1.6-15.9l-0.4-15.9l1-28.3l-2.5-24.7l-1.9-14.1l-0.8-10.6M1048.4 1546l3.1-7.1l1.8-2.1l4.2-3.2l5.3-2.6l7.7-2.9l20.9-6.7l19.1-4.4l19.1-3l20.9-1.9l22.9-0.6l19.1 0.5l20.9 1.4l22.9 2.4l22.9 3.3l38.1 7l24.8 5.4l31 7.4l26.2 4.6l10.2 2.5"/>
</g>
<path d="M1040.6 1127.9 V1098.0 Q1040.6 1095.0 1043.6 1095.0 H1484.3 Q1487.3 1095.0 1487.3 1098.0 V1127.9" fill="#fff" stroke="#000" stroke-width="2.4"/>
<text x="1263.9" y="1124.7" font-size="36.1" font-weight="bold" text-anchor="middle">Power*Tension</text>
<rect x="1040.6" y="1127.9" width="446.7" height="414.0" fill="none" stroke="#000" stroke-width="2.4"/>
<text x="1040.6" y="1579.8" font-size="31.3" font-weight="bold" text-anchor="middle">0.5</text>
<text x="1152.3" y="1579.8" font-size="31.3" font-weight="bold" text-anchor="middle">1.0</text>
<text x="1263.9" y="1579.8" font-size="31.3" font-weight="bold" text-anchor="middle">1.5</text>
<text x="1375.6" y="1579.8" font-size="31.3" font-weight="bold" text-anchor="middle">2.0</text>
<text x="1487.3" y="1579.8" font-size="31.3" font-weight="bold" text-anchor="middle">2.5</text>
<text x="1026.1" y="1553.6" font-size="31.3" font-weight="bold" text-anchor="end">10</text>
<text x="1026.1" y="1450.1" font-size="31.3" font-weight="bold" text-anchor="end">20</text>
<text x="1026.1" y="1346.6" font-size="31.3" font-weight="bold" text-anchor="end">30</text>
<text x="1026.1" y="1243.1" font-size="31.3" font-weight="bold" text-anchor="end">40</text>
<text x="1026.1" y="1139.6" font-size="31.3" font-weight="bold" text-anchor="end">50</text>
<path d="M1040.6 1541.9v10.5M1152.3 1541.9v10.5M1263.9 1541.9v10.5M1375.6 1541.9v10.5M1487.3 1541.9v10.5M1040.6 1541.9h-10.5M1040.6 1438.4h-10.5M1040.6 1334.9h-10.5M1040.6 1231.4h-10.5M1040.6 1127.9h-10.5" stroke="#000" stroke-width="2.4" fill="none"/>
<clipPath id="clip_cPS"><rect x="504.2" y="1642.5" width="446.7" height="413.7"/></clipPath>
<g clip-path="url(#clip_cPS)">
<path fill="#f4960b" stroke="#f4960b" stroke-width="0.6" fill-rule="evenodd" d="M955.4 2022.3l0 38.1l-29.3-0l14.5-19.5l14-17.6z"/>
<path fill="#f9c744" stroke="#f9c744" stroke-width="0.6" fill-rule="evenodd" d="M955.4 1968.5l0 53.8l-14.8 18.7l-14.5 19.4l-46.1-0l18.2-24.7l18.1-23l19.6-23l19.4-21.1z"/>
<path fill="#fde847" stroke="#fde847" stroke-width="0.6" fill-rule="evenodd" d="M955.4 1915.9l0 52.6l-19.5 21.2l-19.6 23l-18.1 22.9l-18.2 24.8l-52.7-0l13.4-19.5l13.1-17.6l14.1-17.7l15.1-17.6l16.1-17.7l17.1-17.6l18.3-17.7l19.3-17.7z"/>
<path fill="#d3c126" stroke="#d3c126" stroke-width="0.6" fill-rule="evenodd" d="M955.4 1864.9l0 51l-19.1 17.3l-18.3 17.7l-17.3 17.7l-16.2 17.6l-15.1 17.7l-15.6 19.4l-13.1 17.6l-13.4 19.5l-63.6-0l9.9-15.9l15.9-23l17.8-22.9l19.9-23l20.4-21.2l22.4-21.2l26.5-22.9l26.5-21.2l30.7-22.9z"/>
<path fill="#a1bd43" stroke="#a1bd43" stroke-width="0.6" fill-rule="evenodd" d="M501.6 1638.4l20.7 0l2.1 24.7l1.4 24.7l0.8 23l0.2 22.9l-0.6 23l-1.3 21.2l-2.2 21.2l-2.9 19.4l-3.6 17.6l-4.7 17.7l-5.2 15.9l-6.6 16.5l-0-247.8zM955.4 1815.7l0 49.2l-32.4 24.2l-30.7 24.7l-28 24.7l-23.7 23l-21.3 23l-20.5 24.7l-18.1 24.7l-17 26.5l-85.9-0l8.2-17.7l9.6-17.6l10-15.9l11.5-15.9l8.6-10.6l9.4-10.6l19.3-19.4l22-19.5l26.9-21.1l29.7-21.2l34.9-23l40.2-24.7l45.5-26.5z"/>
<path fill="#0b7471" stroke="#0b7471" stroke-width="0.6" fill-rule="evenodd" d="M522.6 1638.4l51.9 0l14.8 55.5l11.5 38.4l5.7 17.1l5.7 15.4l5.7 13.7l5.7 12.1l5.8 10.4l5.7 8.9l6.5 8.6l6.8 7.3l7.6 6.5l7.7 4.9l7.6 3.8l7.6 2.8l9.6 2.2l9.5 1.3l9.5 0.4l11.5-0.4l11.4-1.2l13.3-2.2l13.4-2.8l15.2-3.8l34.4-10.5l41.9-14.9l47.7-18.7l59.1-24.8l-0 47.3l-32.4 18.7l-29.6 17.6l-25.6 15.9l-24.4 15.9l-23.2 15.9l-19.3 14.1l-18.1 14.2l-16.8 14.1l-15.4 14.1l-13.9 14.1l-12.5 14.2l-11.2 14.1l-9.8 14.1l-9.7 15.9l-8.4 15.9l-7.3 15.9l-178.1-0l0-174.2l5.3-13l4.9-14.1l4.1-14.1l3.4-14.2l3-15.8l2.3-15.9l1.9-17.7l1.3-17.6l0.9-28.3l-0.3-30l-1.4-31.8l-2.7-35.3z"/>
<path fill="#3d56c2" stroke="#3d56c2" stroke-width="0.6" fill-rule="evenodd" d="M576 1638.4l60 0l12.4 21.8l13.7 20.6l7.3 9.5l6.9 8.1l6.5 7l7.6 7.3l7.6 6.5l7.6 5.7l7.7 5l7.6 4.3l7.6 3.7l9.5 3.9l9.6 3.1l9.5 2.5l9.5 1.9l9.6 1.3l19 1.3l21-0.3l22.9-2l24.8-3.7l28.6-5.9l30.5-7.5l32.4-9.3l-0 45.2l-49.6 20.9l-40 16l-36.2 13.6l-30.5 10.4l-26.7 8l-24.8 5.9l-21 3.3l-9.5 0.9l-9.6 0.3l-13.3-0.8l-10.8-1.9l-10.2-3.2l-9.5-4.6l-9.5-6.4l-7.7-6.9l-7.6-8.8l-7.5-10.7l-7-12.4l-6.5-13.5l-6.8-16.5l-6.5-18.2l-6.1-18.9l-7.2-24.3l-16.7-62.2z"/>
<path fill="#431a88" stroke="#431a88" stroke-width="0.6" fill-rule="evenodd" d="M637 1638.4l78.3 0l11.3 9.3l13.3 9.5l13.4 7.9l13.3 6.5l13.4 5.3l15.2 4.8l15.3 3.5l15.2 2.4l13.4 1.3l15.2 0.8l15.3 0l15.2-0.6l17.2-1.3l17.1-2l17.2-2.5l19.1-3.4l-0 43.3l-22.9 6.6l-22.9 6.1l-21 5l-19 3.9l-19.1 3.2l-17.1 2.2l-17.2 1.4l-15.2 0.4l-13.4-0.4l-13.3-1.2l-13.4-2.2l-11.4-2.7l-11.5-3.7l-11.4-4.8l-11.4-6l-9.5-6.1l-9.6-7.3l-9.5-8.4l-8.7-9l-8.5-9.9l-8.6-11.3l-8.5-12.7l-7.7-12.5l-8.6-15.4z"/>
<path fill="#561566" stroke="#561566" stroke-width="0.6" fill-rule="evenodd" d="M717.1 1638.4l238.3 0l0 41.5l-24.8 4.3l-24.8 3.2l-22.8 1.8l-21 0.6l-22.9-0.9l-21-2.4l-19-3.8l-19.1-5.8l-17.1-7l-17.2-9.1l-15.3-10.2l-15.1-12.2z"/>
<path fill="none" stroke="#000" stroke-width="1.1" d="M955.4 2022.3l-14.8 18.6l-14.5 19.5M955.4 1968.5l-19.5 21.2l-19.6 23l-18.1 23l-18.2 24.7M955.4 1915.9l-19.1 17.3l-18.3 17.7l-17.3 17.6l-16.2 17.7l-15.1 17.7l-15.6 19.4l-13.1 17.6l-13.4 19.5M955.4 1864.9l-32.4 24.2l-30.7 24.7l-28 24.7l-23.7 23l-21.3 22.9l-20.5 24.8l-18.1 24.7l-17 26.5M955.4 1815.7l-32.4 18.7l-29.5 17.6l-25.6 15.9l-24.5 15.9l-23.1 15.9l-19.4 14.1l-18.1 14.2l-16.8 14.1l-15.3 14.1l-14 14.1l-12.5 14.2l-11.1 14.1l-9.9 14.1l-9.7 15.9l-8.4 15.9l-7.3 15.9M499.7 1886.2l4.6-11.2l4.5-12.4l3.8-12.4l3.2-12.3l2.6-12.4l2.6-14.1l3.5-28.2l1.9-31.8l0.3-35.3l-1.3-37.1l-3-40.6M955.4 1768.4l-59.1 24.7l-49.6 19.5l-41.9 14.8l-17.2 5.4l-17.1 4.9l-15.3 3.8l-13.3 2.7l-13.4 2.1l-11.4 1l-11.4 0.3l-9.6-0.5l-9.5-1.5l-9.5-2.5l-9.6-3.9l-7.6-4.3l-7.6-5.7l-5.7-5.3l-6.4-7.2l-6.5-8.8l-5.4-8.9l-5.7-10.6l-4.9-10.6l-5.5-13l-5.7-15.5l-5.7-17.1l-11.4-38.4l-14.8-55.4M955.4 1723.1l-34.3 9.8l-30.5 7.5l-28.6 5.7l-26.7 3.8l-24.8 1.8l-21-0.1l-19-1.8l-9.6-1.7l-9.5-2.2l-9.5-2.8l-7.6-2.8l-9.6-4.3l-7.6-4l-7.6-4.6l-7.7-5.4l-13.3-11.1l-13.3-13.8l-13.4-16.9l-13.3-20.1l-12.4-21.8M955.4 1679.9l-21 3.7l-20.9 2.9l-19.1 2l-17.2 1l-17.1 0.3l-15.3-0.5l-15.2-1.2l-15.3-2.2l-15.2-3.2l-12.9-3.7l-11.9-4.2l-13.4-5.8l-11.4-6l-11.4-7.1l-11.5-8.2l-11.3-9.3"/>
</g>
<path d="M504.2 1642.5 V1612.6 Q504.2 1609.6 507.2 1609.6 H947.9 Q950.9 1609.6 950.9 1612.6 V1642.5" fill="#fff" stroke="#000" stroke-width="2.4"/>
<text x="727.5" y="1639.3" font-size="36.1" font-weight="bold" text-anchor="middle">Power*Speed</text>
<rect x="504.2" y="1642.5" width="446.7" height="413.7" fill="none" stroke="#000" stroke-width="2.4"/>
<text x="504.2" y="2094.1" font-size="31.3" font-weight="bold" text-anchor="middle">2</text>
<text x="615.9" y="2094.1" font-size="31.3" font-weight="bold" text-anchor="middle">4</text>
<text x="727.5" y="2094.1" font-size="31.3" font-weight="bold" text-anchor="middle">6</text>
<text x="839.2" y="2094.1" font-size="31.3" font-weight="bold" text-anchor="middle">8</text>
<text x="950.9" y="2094.1" font-size="31.3" font-weight="bold" text-anchor="middle">10</text>
<text x="489.7" y="2067.9" font-size="31.3" font-weight="bold" text-anchor="end">10</text>
<text x="489.7" y="1964.5" font-size="31.3" font-weight="bold" text-anchor="end">20</text>
<text x="489.7" y="1861.0" font-size="31.3" font-weight="bold" text-anchor="end">30</text>
<text x="489.7" y="1757.6" font-size="31.3" font-weight="bold" text-anchor="end">40</text>
<text x="489.7" y="1654.2" font-size="31.3" font-weight="bold" text-anchor="end">50</text>
<path d="M504.2 2056.2v10.5M615.9 2056.2v10.5M727.5 2056.2v10.5M839.2 2056.2v10.5M950.9 2056.2v10.5M504.2 2056.2h-10.5M504.2 1952.8h-10.5M504.2 1849.3h-10.5M504.2 1745.9h-10.5M504.2 1642.5h-10.5" stroke="#000" stroke-width="2.4" fill="none"/>
<text transform="translate(650.3 512.7) scale(1.015 1)" font-size="28.3" font-weight="bold">Dimensional Accuracy</text>
<rect x="598.6" y="522.6" width="29.9" height="26.2" fill="#931519"/>
<text transform="translate(777.7 549.3) scale(1.040 1)" font-size="33.5" font-weight="bold" text-anchor="middle"><</text>
<text transform="translate(905.4 549.3) scale(1.040 1)" font-size="33.5" font-weight="bold" text-anchor="end">9.920</text>
<rect x="598.6" y="558.5" width="29.9" height="26.2" fill="#d20000"/>
<text transform="translate(749.4 585.2) scale(1.040 1)" font-size="33.5" font-weight="bold" text-anchor="end">9.920</text>
<text transform="translate(777.7 585.2) scale(1.040 1)" font-size="33.5" font-weight="bold" text-anchor="middle">–</text>
<text transform="translate(905.4 585.2) scale(1.040 1)" font-size="33.5" font-weight="bold" text-anchor="end">9.932</text>
<rect x="598.6" y="594.4" width="29.9" height="26.2" fill="#f4960b"/>
<text transform="translate(749.4 621.1) scale(1.040 1)" font-size="33.5" font-weight="bold" text-anchor="end">9.932</text>
<text transform="translate(777.7 621.1) scale(1.040 1)" font-size="33.5" font-weight="bold" text-anchor="middle">–</text>
<text transform="translate(905.4 621.1) scale(1.040 1)" font-size="33.5" font-weight="bold" text-anchor="end">9.944</text>
<rect x="598.6" y="630.3" width="29.9" height="26.2" fill="#f9c744"/>
<text transform="translate(749.4 657.0) scale(1.040 1)" font-size="33.5" font-weight="bold" text-anchor="end">9.944</text>
<text transform="translate(777.7 657.0) scale(1.040 1)" font-size="33.5" font-weight="bold" text-anchor="middle">–</text>
<text transform="translate(905.4 657.0) scale(1.040 1)" font-size="33.5" font-weight="bold" text-anchor="end">9.956</text>
<rect x="598.6" y="666.2" width="29.9" height="26.2" fill="#fde847"/>
<text transform="translate(749.4 692.9) scale(1.040 1)" font-size="33.5" font-weight="bold" text-anchor="end">9.956</text>
<text transform="translate(777.7 692.9) scale(1.040 1)" font-size="33.5" font-weight="bold" text-anchor="middle">–</text>
<text transform="translate(905.4 692.9) scale(1.040 1)" font-size="33.5" font-weight="bold" text-anchor="end">9.968</text>
<rect x="598.6" y="702.1" width="29.9" height="26.2" fill="#d3c126"/>
<text transform="translate(749.4 728.8) scale(1.040 1)" font-size="33.5" font-weight="bold" text-anchor="end">9.968</text>
<text transform="translate(777.7 728.8) scale(1.040 1)" font-size="33.5" font-weight="bold" text-anchor="middle">–</text>
<text transform="translate(905.4 728.8) scale(1.040 1)" font-size="33.5" font-weight="bold" text-anchor="end">9.980</text>
<rect x="598.6" y="738.0" width="29.9" height="26.2" fill="#a1bd43"/>
<text transform="translate(749.4 764.7) scale(1.040 1)" font-size="33.5" font-weight="bold" text-anchor="end">9.980</text>
<text transform="translate(777.7 764.7) scale(1.040 1)" font-size="33.5" font-weight="bold" text-anchor="middle">–</text>
<text transform="translate(905.4 764.7) scale(1.040 1)" font-size="33.5" font-weight="bold" text-anchor="end">9.992</text>
<rect x="598.6" y="773.9" width="29.9" height="26.2" fill="#0b7471"/>
<text transform="translate(749.4 800.6) scale(1.040 1)" font-size="33.5" font-weight="bold" text-anchor="end">9.992</text>
<text transform="translate(777.7 800.6) scale(1.040 1)" font-size="33.5" font-weight="bold" text-anchor="middle">–</text>
<text transform="translate(905.4 800.6) scale(1.040 1)" font-size="33.5" font-weight="bold" text-anchor="end">10.004</text>
<rect x="598.6" y="809.8" width="29.9" height="26.2" fill="#3d56c2"/>
<text transform="translate(749.4 836.5) scale(1.040 1)" font-size="33.5" font-weight="bold" text-anchor="end">10.004</text>
<text transform="translate(777.7 836.5) scale(1.040 1)" font-size="33.5" font-weight="bold" text-anchor="middle">–</text>
<text transform="translate(905.4 836.5) scale(1.040 1)" font-size="33.5" font-weight="bold" text-anchor="end">10.016</text>
<rect x="598.6" y="845.7" width="29.9" height="26.2" fill="#431a88"/>
<text transform="translate(749.4 872.4) scale(1.040 1)" font-size="33.5" font-weight="bold" text-anchor="end">10.016</text>
<text transform="translate(777.7 872.4) scale(1.040 1)" font-size="33.5" font-weight="bold" text-anchor="middle">–</text>
<text transform="translate(905.4 872.4) scale(1.040 1)" font-size="33.5" font-weight="bold" text-anchor="end">10.028</text>
<rect x="598.6" y="881.6" width="29.9" height="26.2" fill="#561566"/>
<text transform="translate(777.7 908.3) scale(1.040 1)" font-size="33.5" font-weight="bold" text-anchor="middle">></text>
<text transform="translate(905.4 908.3) scale(1.040 1)" font-size="33.5" font-weight="bold" text-anchor="end">10.028</text>
<text transform="translate(1705.8 502.2) scale(1.030 1)" font-size="33.5" font-weight="bold">Roughness</text>
<rect x="1653.8" y="512.9" width="30.1" height="26.5" fill="#931519"/>
<text transform="translate(1790.6 539.5) scale(1.040 1)" font-size="33.5" font-weight="bold" text-anchor="middle"><</text>
<text transform="translate(1865.3 539.5) scale(1.040 1)" font-size="33.5" font-weight="bold" text-anchor="end">2.1</text>
<rect x="1653.8" y="549.1" width="30.1" height="26.5" fill="#d20000"/>
<text transform="translate(1761.0 575.7) scale(1.040 1)" font-size="33.5" font-weight="bold" text-anchor="end">2.1</text>
<text transform="translate(1790.6 575.7) scale(1.040 1)" font-size="33.5" font-weight="bold" text-anchor="middle">–</text>
<text transform="translate(1865.3 575.7) scale(1.040 1)" font-size="33.5" font-weight="bold" text-anchor="end">2.7</text>
<rect x="1653.8" y="585.3" width="30.1" height="26.5" fill="#f4960b"/>
<text transform="translate(1761.0 611.9) scale(1.040 1)" font-size="33.5" font-weight="bold" text-anchor="end">2.7</text>
<text transform="translate(1790.6 611.9) scale(1.040 1)" font-size="33.5" font-weight="bold" text-anchor="middle">–</text>
<text transform="translate(1865.3 611.9) scale(1.040 1)" font-size="33.5" font-weight="bold" text-anchor="end">3.3</text>
<rect x="1653.8" y="621.5" width="30.1" height="26.5" fill="#f9c744"/>
<text transform="translate(1761.0 648.1) scale(1.040 1)" font-size="33.5" font-weight="bold" text-anchor="end">3.3</text>
<text transform="translate(1790.6 648.1) scale(1.040 1)" font-size="33.5" font-weight="bold" text-anchor="middle">–</text>
<text transform="translate(1865.3 648.1) scale(1.040 1)" font-size="33.5" font-weight="bold" text-anchor="end">3.9</text>
<rect x="1653.8" y="657.7" width="30.1" height="26.5" fill="#fde847"/>
<text transform="translate(1761.0 684.3) scale(1.040 1)" font-size="33.5" font-weight="bold" text-anchor="end">3.9</text>
<text transform="translate(1790.6 684.3) scale(1.040 1)" font-size="33.5" font-weight="bold" text-anchor="middle">–</text>
<text transform="translate(1865.3 684.3) scale(1.040 1)" font-size="33.5" font-weight="bold" text-anchor="end">4.5</text>
<rect x="1653.8" y="693.9" width="30.1" height="26.5" fill="#d3c126"/>
<text transform="translate(1761.0 720.5) scale(1.040 1)" font-size="33.5" font-weight="bold" text-anchor="end">4.5</text>
<text transform="translate(1790.6 720.5) scale(1.040 1)" font-size="33.5" font-weight="bold" text-anchor="middle">–</text>
<text transform="translate(1865.3 720.5) scale(1.040 1)" font-size="33.5" font-weight="bold" text-anchor="end">5.1</text>
<rect x="1653.8" y="730.1" width="30.1" height="26.5" fill="#a1bd43"/>
<text transform="translate(1761.0 756.7) scale(1.040 1)" font-size="33.5" font-weight="bold" text-anchor="end">5.1</text>
<text transform="translate(1790.6 756.7) scale(1.040 1)" font-size="33.5" font-weight="bold" text-anchor="middle">–</text>
<text transform="translate(1865.3 756.7) scale(1.040 1)" font-size="33.5" font-weight="bold" text-anchor="end">5.7</text>
<rect x="1653.8" y="766.3" width="30.1" height="26.5" fill="#0b7471"/>
<text transform="translate(1761.0 792.9) scale(1.040 1)" font-size="33.5" font-weight="bold" text-anchor="end">5.7</text>
<text transform="translate(1790.6 792.9) scale(1.040 1)" font-size="33.5" font-weight="bold" text-anchor="middle">–</text>
<text transform="translate(1865.3 792.9) scale(1.040 1)" font-size="33.5" font-weight="bold" text-anchor="end">6.3</text>
<rect x="1653.8" y="802.5" width="30.1" height="26.5" fill="#3d56c2"/>
<text transform="translate(1761.0 829.1) scale(1.040 1)" font-size="33.5" font-weight="bold" text-anchor="end">6.3</text>
<text transform="translate(1790.6 829.1) scale(1.040 1)" font-size="33.5" font-weight="bold" text-anchor="middle">–</text>
<text transform="translate(1865.3 829.1) scale(1.040 1)" font-size="33.5" font-weight="bold" text-anchor="end">6.9</text>
<rect x="1653.8" y="838.7" width="30.1" height="26.5" fill="#431a88"/>
<text transform="translate(1761.0 865.3) scale(1.040 1)" font-size="33.5" font-weight="bold" text-anchor="end">6.9</text>
<text transform="translate(1790.6 865.3) scale(1.040 1)" font-size="33.5" font-weight="bold" text-anchor="middle">–</text>
<text transform="translate(1865.3 865.3) scale(1.040 1)" font-size="33.5" font-weight="bold" text-anchor="end">7.5</text>
<rect x="1653.8" y="874.9" width="30.1" height="26.5" fill="#561566"/>
<text transform="translate(1790.6 901.5) scale(1.040 1)" font-size="33.5" font-weight="bold" text-anchor="middle">></text>
<text transform="translate(1865.3 901.5) scale(1.040 1)" font-size="33.5" font-weight="bold" text-anchor="end">7.5</text>
<text x="1214.3" y="1625.7" font-size="36.2" font-weight="bold">Hardness</text>
<rect x="1134.3" y="1636.4" width="32.6" height="28.0" fill="#931519"/>
<text transform="translate(1287.5 1665.0) scale(1.050 1)" font-size="36.0" font-weight="bold" text-anchor="middle"><</text>
<text transform="translate(1387.0 1665.0) scale(1.050 1)" font-size="36.0" font-weight="bold" text-anchor="end">65.0</text>
<rect x="1134.3" y="1674.7" width="32.6" height="28.0" fill="#d20000"/>
<text transform="translate(1257.1 1703.3) scale(1.050 1)" font-size="36.0" font-weight="bold" text-anchor="end">65.0</text>
<text transform="translate(1287.5 1703.3) scale(1.050 1)" font-size="36.0" font-weight="bold" text-anchor="middle">–</text>
<text transform="translate(1387.0 1703.3) scale(1.050 1)" font-size="36.0" font-weight="bold" text-anchor="end">65.8</text>
<rect x="1134.3" y="1713.0" width="32.6" height="28.0" fill="#f4960b"/>
<text transform="translate(1257.1 1741.6) scale(1.050 1)" font-size="36.0" font-weight="bold" text-anchor="end">65.8</text>
<text transform="translate(1287.5 1741.6) scale(1.050 1)" font-size="36.0" font-weight="bold" text-anchor="middle">–</text>
<text transform="translate(1387.0 1741.6) scale(1.050 1)" font-size="36.0" font-weight="bold" text-anchor="end">66.6</text>
<rect x="1134.3" y="1751.3" width="32.6" height="28.0" fill="#f9c744"/>
<text transform="translate(1257.1 1779.9) scale(1.050 1)" font-size="36.0" font-weight="bold" text-anchor="end">66.6</text>
<text transform="translate(1287.5 1779.9) scale(1.050 1)" font-size="36.0" font-weight="bold" text-anchor="middle">–</text>
<text transform="translate(1387.0 1779.9) scale(1.050 1)" font-size="36.0" font-weight="bold" text-anchor="end">67.4</text>
<rect x="1134.3" y="1789.6" width="32.6" height="28.0" fill="#fde847"/>
<text transform="translate(1257.1 1818.2) scale(1.050 1)" font-size="36.0" font-weight="bold" text-anchor="end">67.4</text>
<text transform="translate(1287.5 1818.2) scale(1.050 1)" font-size="36.0" font-weight="bold" text-anchor="middle">–</text>
<text transform="translate(1387.0 1818.2) scale(1.050 1)" font-size="36.0" font-weight="bold" text-anchor="end">68.2</text>
<rect x="1134.3" y="1827.9" width="32.6" height="28.0" fill="#d3c126"/>
<text transform="translate(1257.1 1856.5) scale(1.050 1)" font-size="36.0" font-weight="bold" text-anchor="end">68.2</text>
<text transform="translate(1287.5 1856.5) scale(1.050 1)" font-size="36.0" font-weight="bold" text-anchor="middle">–</text>
<text transform="translate(1387.0 1856.5) scale(1.050 1)" font-size="36.0" font-weight="bold" text-anchor="end">69.0</text>
<rect x="1134.3" y="1866.2" width="32.6" height="28.0" fill="#a1bd43"/>
<text transform="translate(1257.1 1894.8) scale(1.050 1)" font-size="36.0" font-weight="bold" text-anchor="end">69.0</text>
<text transform="translate(1287.5 1894.8) scale(1.050 1)" font-size="36.0" font-weight="bold" text-anchor="middle">–</text>
<text transform="translate(1387.0 1894.8) scale(1.050 1)" font-size="36.0" font-weight="bold" text-anchor="end">69.8</text>
<rect x="1134.3" y="1904.5" width="32.6" height="28.0" fill="#0b7471"/>
<text transform="translate(1257.1 1933.1) scale(1.050 1)" font-size="36.0" font-weight="bold" text-anchor="end">69.8</text>
<text transform="translate(1287.5 1933.1) scale(1.050 1)" font-size="36.0" font-weight="bold" text-anchor="middle">–</text>
<text transform="translate(1387.0 1933.1) scale(1.050 1)" font-size="36.0" font-weight="bold" text-anchor="end">70.6</text>
<rect x="1134.3" y="1942.8" width="32.6" height="28.0" fill="#3d56c2"/>
<text transform="translate(1257.1 1971.4) scale(1.050 1)" font-size="36.0" font-weight="bold" text-anchor="end">70.6</text>
<text transform="translate(1287.5 1971.4) scale(1.050 1)" font-size="36.0" font-weight="bold" text-anchor="middle">–</text>
<text transform="translate(1387.0 1971.4) scale(1.050 1)" font-size="36.0" font-weight="bold" text-anchor="end">71.4</text>
<rect x="1134.3" y="1981.1" width="32.6" height="28.0" fill="#431a88"/>
<text transform="translate(1257.1 2009.7) scale(1.050 1)" font-size="36.0" font-weight="bold" text-anchor="end">71.4</text>
<text transform="translate(1287.5 2009.7) scale(1.050 1)" font-size="36.0" font-weight="bold" text-anchor="middle">–</text>
<text transform="translate(1387.0 2009.7) scale(1.050 1)" font-size="36.0" font-weight="bold" text-anchor="end">72.2</text>
<rect x="1134.3" y="2019.4" width="32.6" height="28.0" fill="#561566"/>
<text transform="translate(1287.5 2048.0) scale(1.050 1)" font-size="36.0" font-weight="bold" text-anchor="middle">></text>
<text transform="translate(1387.0 2048.0) scale(1.050 1)" font-size="36.0" font-weight="bold" text-anchor="end">72.2</text>
<text transform="translate(480.3 1031.4) scale(1.050 1)" font-size="45.6" text-anchor="middle">(a)</text>
<text transform="translate(1503.2 1031.4) scale(1.050 1)" font-size="45.6" text-anchor="middle">(b)</text>
<text transform="translate(987.5 2187.3) scale(1.050 1)" font-size="45.6" text-anchor="middle">(c)</text>
</svg></body></html>
